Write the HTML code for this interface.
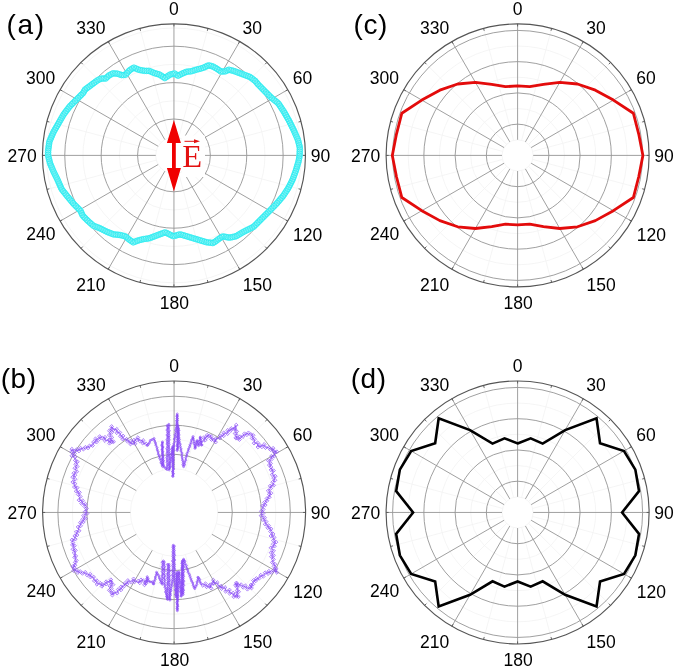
<!DOCTYPE html><html><head><meta charset="utf-8"><style>
*{margin:0;padding:0}
html,body{width:675px;height:668px;background:#fff;overflow:hidden}
svg{display:block;will-change:transform}
.mn{stroke:#f2f2f2;stroke-width:0.8;fill:none}
.mj{stroke:#959595;stroke-width:0.9;fill:none}
.sp{stroke:#959595;stroke-width:0.9}
.tk{stroke:#555;stroke-width:0.9}
.ou{stroke:#555;stroke-width:1.15;fill:none}
.lb{font-family:"Liberation Sans",sans-serif;font-size:17.5px;fill:#000;text-anchor:middle}
.cy circle{fill:none;stroke:#2aebf0;stroke-width:0.75}
.pu circle,.pu path{fill:none;stroke:#8a4cf6;stroke-width:0.7}
.pl{font-family:"Liberation Sans",sans-serif;font-size:28px;fill:#000;letter-spacing:0.5px}
</style></head><body>
<svg width="675" height="668" viewBox="0 0 675 668">
<line x1="178.66" y1="137.82" x2="207.98" y2="28.38" class="mn"/>
<line x1="186.82" y1="142.53" x2="266.93" y2="62.42" class="mn"/>
<line x1="191.53" y1="150.69" x2="300.97" y2="121.37" class="mn"/>
<line x1="191.53" y1="160.11" x2="300.97" y2="189.43" class="mn"/>
<line x1="186.82" y1="168.27" x2="266.93" y2="248.38" class="mn"/>
<line x1="178.66" y1="172.98" x2="207.98" y2="282.42" class="mn"/>
<line x1="169.24" y1="172.98" x2="139.92" y2="282.42" class="mn"/>
<line x1="161.08" y1="168.27" x2="80.97" y2="248.38" class="mn"/>
<line x1="156.37" y1="160.11" x2="46.93" y2="189.43" class="mn"/>
<line x1="156.37" y1="150.69" x2="46.93" y2="121.37" class="mn"/>
<line x1="161.08" y1="142.53" x2="80.97" y2="62.42" class="mn"/>
<line x1="169.24" y1="137.82" x2="139.92" y2="28.38" class="mn"/>
<circle cx="173.95" cy="155.4" r="18.2" class="mn"/>
<circle cx="173.95" cy="155.4" r="54.6" class="mn"/>
<circle cx="173.95" cy="155.4" r="91" class="mn"/>
<circle cx="173.95" cy="155.4" r="127.4" class="mn"/>
<circle cx="173.95" cy="155.4" r="36.4" class="mj"/>
<circle cx="173.95" cy="155.4" r="72.8" class="mj"/>
<circle cx="173.95" cy="155.4" r="109.2" class="mj"/>
<line x1="173.95" y1="137.2" x2="173.95" y2="23.9" class="sp"/>
<line x1="183.05" y1="139.64" x2="239.7" y2="41.52" class="sp"/>
<line x1="189.71" y1="146.3" x2="287.83" y2="89.65" class="sp"/>
<line x1="192.15" y1="155.4" x2="305.45" y2="155.4" class="sp"/>
<line x1="189.71" y1="164.5" x2="287.83" y2="221.15" class="sp"/>
<line x1="183.05" y1="171.16" x2="239.7" y2="269.28" class="sp"/>
<line x1="173.95" y1="173.6" x2="173.95" y2="286.9" class="sp"/>
<line x1="164.85" y1="171.16" x2="108.2" y2="269.28" class="sp"/>
<line x1="158.19" y1="164.5" x2="60.07" y2="221.15" class="sp"/>
<line x1="155.75" y1="155.4" x2="42.45" y2="155.4" class="sp"/>
<line x1="158.19" y1="146.3" x2="60.07" y2="89.65" class="sp"/>
<line x1="164.85" y1="139.64" x2="108.2" y2="41.52" class="sp"/>
<line x1="173.95" y1="26.4" x2="173.95" y2="23.9" class="tk"/>
<line x1="207.34" y1="30.8" x2="207.98" y2="28.38" class="tk"/>
<line x1="238.45" y1="43.68" x2="239.7" y2="41.52" class="tk"/>
<line x1="265.17" y1="64.18" x2="266.93" y2="62.42" class="tk"/>
<line x1="285.67" y1="90.9" x2="287.83" y2="89.65" class="tk"/>
<line x1="298.55" y1="122.01" x2="300.97" y2="121.37" class="tk"/>
<line x1="302.95" y1="155.4" x2="305.45" y2="155.4" class="tk"/>
<line x1="298.55" y1="188.79" x2="300.97" y2="189.43" class="tk"/>
<line x1="285.67" y1="219.9" x2="287.83" y2="221.15" class="tk"/>
<line x1="265.17" y1="246.62" x2="266.93" y2="248.38" class="tk"/>
<line x1="238.45" y1="267.12" x2="239.7" y2="269.28" class="tk"/>
<line x1="207.34" y1="280" x2="207.98" y2="282.42" class="tk"/>
<line x1="173.95" y1="284.4" x2="173.95" y2="286.9" class="tk"/>
<line x1="140.56" y1="280" x2="139.92" y2="282.42" class="tk"/>
<line x1="109.45" y1="267.12" x2="108.2" y2="269.28" class="tk"/>
<line x1="82.73" y1="246.62" x2="80.97" y2="248.38" class="tk"/>
<line x1="62.23" y1="219.9" x2="60.07" y2="221.15" class="tk"/>
<line x1="49.35" y1="188.79" x2="46.93" y2="189.43" class="tk"/>
<line x1="44.95" y1="155.4" x2="42.45" y2="155.4" class="tk"/>
<line x1="49.35" y1="122.01" x2="46.93" y2="121.37" class="tk"/>
<line x1="62.23" y1="90.9" x2="60.07" y2="89.65" class="tk"/>
<line x1="82.73" y1="64.18" x2="80.97" y2="62.42" class="tk"/>
<line x1="109.45" y1="43.68" x2="108.2" y2="41.52" class="tk"/>
<line x1="140.56" y1="30.8" x2="139.92" y2="28.38" class="tk"/>
<circle cx="173.95" cy="155.4" r="131.5" class="ou"/>
<line x1="185.41" y1="470.24" x2="208.13" y2="385.43" class="mn"/>
<line x1="205" y1="481.55" x2="267.08" y2="419.47" class="mn"/>
<line x1="216.31" y1="501.14" x2="301.12" y2="478.42" class="mn"/>
<line x1="216.31" y1="523.76" x2="301.12" y2="546.48" class="mn"/>
<line x1="205" y1="543.35" x2="267.08" y2="605.43" class="mn"/>
<line x1="185.41" y1="554.66" x2="208.13" y2="639.47" class="mn"/>
<line x1="162.79" y1="554.66" x2="140.07" y2="639.47" class="mn"/>
<line x1="143.2" y1="543.35" x2="81.12" y2="605.43" class="mn"/>
<line x1="131.89" y1="523.76" x2="47.08" y2="546.48" class="mn"/>
<line x1="131.89" y1="501.14" x2="47.08" y2="478.42" class="mn"/>
<line x1="143.2" y1="481.55" x2="81.12" y2="419.47" class="mn"/>
<line x1="162.79" y1="470.24" x2="140.07" y2="385.43" class="mn"/>
<circle cx="174.1" cy="512.45" r="43.7" class="mn"/>
<circle cx="174.1" cy="512.45" r="72.7" class="mn"/>
<circle cx="174.1" cy="512.45" r="101.7" class="mn"/>
<circle cx="174.1" cy="512.45" r="58.2" class="mj"/>
<circle cx="174.1" cy="512.45" r="87.2" class="mj"/>
<circle cx="174.1" cy="512.45" r="116.2" class="mj"/>
<line x1="174.1" y1="468.75" x2="174.1" y2="380.95" class="sp"/>
<line x1="195.95" y1="474.6" x2="239.85" y2="398.57" class="sp"/>
<line x1="211.95" y1="490.6" x2="287.98" y2="446.7" class="sp"/>
<line x1="217.8" y1="512.45" x2="305.6" y2="512.45" class="sp"/>
<line x1="211.95" y1="534.3" x2="287.98" y2="578.2" class="sp"/>
<line x1="195.95" y1="550.3" x2="239.85" y2="626.33" class="sp"/>
<line x1="174.1" y1="556.15" x2="174.1" y2="643.95" class="sp"/>
<line x1="152.25" y1="550.3" x2="108.35" y2="626.33" class="sp"/>
<line x1="136.25" y1="534.3" x2="60.22" y2="578.2" class="sp"/>
<line x1="130.4" y1="512.45" x2="42.6" y2="512.45" class="sp"/>
<line x1="136.25" y1="490.6" x2="60.22" y2="446.7" class="sp"/>
<line x1="152.25" y1="474.6" x2="108.35" y2="398.57" class="sp"/>
<line x1="174.1" y1="383.45" x2="174.1" y2="380.95" class="tk"/>
<line x1="207.49" y1="387.85" x2="208.13" y2="385.43" class="tk"/>
<line x1="238.6" y1="400.73" x2="239.85" y2="398.57" class="tk"/>
<line x1="265.32" y1="421.23" x2="267.08" y2="419.47" class="tk"/>
<line x1="285.82" y1="447.95" x2="287.98" y2="446.7" class="tk"/>
<line x1="298.7" y1="479.06" x2="301.12" y2="478.42" class="tk"/>
<line x1="303.1" y1="512.45" x2="305.6" y2="512.45" class="tk"/>
<line x1="298.7" y1="545.84" x2="301.12" y2="546.48" class="tk"/>
<line x1="285.82" y1="576.95" x2="287.98" y2="578.2" class="tk"/>
<line x1="265.32" y1="603.67" x2="267.08" y2="605.43" class="tk"/>
<line x1="238.6" y1="624.17" x2="239.85" y2="626.33" class="tk"/>
<line x1="207.49" y1="637.05" x2="208.13" y2="639.47" class="tk"/>
<line x1="174.1" y1="641.45" x2="174.1" y2="643.95" class="tk"/>
<line x1="140.71" y1="637.05" x2="140.07" y2="639.47" class="tk"/>
<line x1="109.6" y1="624.17" x2="108.35" y2="626.33" class="tk"/>
<line x1="82.88" y1="603.67" x2="81.12" y2="605.43" class="tk"/>
<line x1="62.38" y1="576.95" x2="60.22" y2="578.2" class="tk"/>
<line x1="49.5" y1="545.84" x2="47.08" y2="546.48" class="tk"/>
<line x1="45.1" y1="512.45" x2="42.6" y2="512.45" class="tk"/>
<line x1="49.5" y1="479.06" x2="47.08" y2="478.42" class="tk"/>
<line x1="62.38" y1="447.95" x2="60.22" y2="446.7" class="tk"/>
<line x1="82.88" y1="421.23" x2="81.12" y2="419.47" class="tk"/>
<line x1="109.6" y1="400.73" x2="108.35" y2="398.57" class="tk"/>
<line x1="140.71" y1="387.85" x2="140.07" y2="385.43" class="tk"/>
<circle cx="174.1" cy="512.45" r="131.5" class="ou"/>
<line x1="521.64" y1="140.31" x2="551.63" y2="28.38" class="mn"/>
<line x1="528.65" y1="144.35" x2="610.58" y2="62.42" class="mn"/>
<line x1="532.69" y1="151.36" x2="644.62" y2="121.37" class="mn"/>
<line x1="532.69" y1="159.44" x2="644.62" y2="189.43" class="mn"/>
<line x1="528.65" y1="166.45" x2="610.58" y2="248.38" class="mn"/>
<line x1="521.64" y1="170.49" x2="551.63" y2="282.42" class="mn"/>
<line x1="513.56" y1="170.49" x2="483.57" y2="282.42" class="mn"/>
<line x1="506.55" y1="166.45" x2="424.62" y2="248.38" class="mn"/>
<line x1="502.51" y1="159.44" x2="390.58" y2="189.43" class="mn"/>
<line x1="502.51" y1="151.36" x2="390.58" y2="121.37" class="mn"/>
<line x1="506.55" y1="144.35" x2="424.62" y2="62.42" class="mn"/>
<line x1="513.56" y1="140.31" x2="483.57" y2="28.38" class="mn"/>
<circle cx="517.6" cy="155.4" r="15.62" class="mn"/>
<circle cx="517.6" cy="155.4" r="46.88" class="mn"/>
<circle cx="517.6" cy="155.4" r="78.12" class="mn"/>
<circle cx="517.6" cy="155.4" r="109.38" class="mn"/>
<circle cx="517.6" cy="155.4" r="31.25" class="mj"/>
<circle cx="517.6" cy="155.4" r="62.5" class="mj"/>
<circle cx="517.6" cy="155.4" r="93.75" class="mj"/>
<circle cx="517.6" cy="155.4" r="125" class="mj"/>
<line x1="517.6" y1="139.78" x2="517.6" y2="23.9" class="sp"/>
<line x1="525.41" y1="141.87" x2="583.35" y2="41.52" class="sp"/>
<line x1="531.13" y1="147.59" x2="631.48" y2="89.65" class="sp"/>
<line x1="533.23" y1="155.4" x2="649.1" y2="155.4" class="sp"/>
<line x1="531.13" y1="163.21" x2="631.48" y2="221.15" class="sp"/>
<line x1="525.41" y1="168.93" x2="583.35" y2="269.28" class="sp"/>
<line x1="517.6" y1="171.03" x2="517.6" y2="286.9" class="sp"/>
<line x1="509.79" y1="168.93" x2="451.85" y2="269.28" class="sp"/>
<line x1="504.07" y1="163.21" x2="403.72" y2="221.15" class="sp"/>
<line x1="501.98" y1="155.4" x2="386.1" y2="155.4" class="sp"/>
<line x1="504.07" y1="147.59" x2="403.72" y2="89.65" class="sp"/>
<line x1="509.79" y1="141.87" x2="451.85" y2="41.52" class="sp"/>
<line x1="517.6" y1="26.4" x2="517.6" y2="23.9" class="tk"/>
<line x1="550.99" y1="30.8" x2="551.63" y2="28.38" class="tk"/>
<line x1="582.1" y1="43.68" x2="583.35" y2="41.52" class="tk"/>
<line x1="608.82" y1="64.18" x2="610.58" y2="62.42" class="tk"/>
<line x1="629.32" y1="90.9" x2="631.48" y2="89.65" class="tk"/>
<line x1="642.2" y1="122.01" x2="644.62" y2="121.37" class="tk"/>
<line x1="646.6" y1="155.4" x2="649.1" y2="155.4" class="tk"/>
<line x1="642.2" y1="188.79" x2="644.62" y2="189.43" class="tk"/>
<line x1="629.32" y1="219.9" x2="631.48" y2="221.15" class="tk"/>
<line x1="608.82" y1="246.62" x2="610.58" y2="248.38" class="tk"/>
<line x1="582.1" y1="267.12" x2="583.35" y2="269.28" class="tk"/>
<line x1="550.99" y1="280" x2="551.63" y2="282.42" class="tk"/>
<line x1="517.6" y1="284.4" x2="517.6" y2="286.9" class="tk"/>
<line x1="484.21" y1="280" x2="483.57" y2="282.42" class="tk"/>
<line x1="453.1" y1="267.12" x2="451.85" y2="269.28" class="tk"/>
<line x1="426.38" y1="246.62" x2="424.62" y2="248.38" class="tk"/>
<line x1="405.88" y1="219.9" x2="403.72" y2="221.15" class="tk"/>
<line x1="393" y1="188.79" x2="390.58" y2="189.43" class="tk"/>
<line x1="388.6" y1="155.4" x2="386.1" y2="155.4" class="tk"/>
<line x1="393" y1="122.01" x2="390.58" y2="121.37" class="tk"/>
<line x1="405.88" y1="90.9" x2="403.72" y2="89.65" class="tk"/>
<line x1="426.38" y1="64.18" x2="424.62" y2="62.42" class="tk"/>
<line x1="453.1" y1="43.68" x2="451.85" y2="41.52" class="tk"/>
<line x1="484.21" y1="30.8" x2="483.57" y2="28.38" class="tk"/>
<circle cx="517.6" cy="155.4" r="131.5" class="ou"/>
<line x1="521.64" y1="497.36" x2="551.63" y2="385.43" class="mn"/>
<line x1="528.65" y1="501.4" x2="610.58" y2="419.47" class="mn"/>
<line x1="532.69" y1="508.41" x2="644.62" y2="478.42" class="mn"/>
<line x1="532.69" y1="516.49" x2="644.62" y2="546.48" class="mn"/>
<line x1="528.65" y1="523.5" x2="610.58" y2="605.43" class="mn"/>
<line x1="521.64" y1="527.54" x2="551.63" y2="639.47" class="mn"/>
<line x1="513.56" y1="527.54" x2="483.57" y2="639.47" class="mn"/>
<line x1="506.55" y1="523.5" x2="424.62" y2="605.43" class="mn"/>
<line x1="502.51" y1="516.49" x2="390.58" y2="546.48" class="mn"/>
<line x1="502.51" y1="508.41" x2="390.58" y2="478.42" class="mn"/>
<line x1="506.55" y1="501.4" x2="424.62" y2="419.47" class="mn"/>
<line x1="513.56" y1="497.36" x2="483.57" y2="385.43" class="mn"/>
<circle cx="517.6" cy="512.45" r="15.62" class="mn"/>
<circle cx="517.6" cy="512.45" r="46.88" class="mn"/>
<circle cx="517.6" cy="512.45" r="78.12" class="mn"/>
<circle cx="517.6" cy="512.45" r="109.38" class="mn"/>
<circle cx="517.6" cy="512.45" r="31.25" class="mj"/>
<circle cx="517.6" cy="512.45" r="62.5" class="mj"/>
<circle cx="517.6" cy="512.45" r="93.75" class="mj"/>
<circle cx="517.6" cy="512.45" r="125" class="mj"/>
<line x1="517.6" y1="496.83" x2="517.6" y2="380.95" class="sp"/>
<line x1="525.41" y1="498.92" x2="583.35" y2="398.57" class="sp"/>
<line x1="531.13" y1="504.64" x2="631.48" y2="446.7" class="sp"/>
<line x1="533.23" y1="512.45" x2="649.1" y2="512.45" class="sp"/>
<line x1="531.13" y1="520.26" x2="631.48" y2="578.2" class="sp"/>
<line x1="525.41" y1="525.98" x2="583.35" y2="626.33" class="sp"/>
<line x1="517.6" y1="528.08" x2="517.6" y2="643.95" class="sp"/>
<line x1="509.79" y1="525.98" x2="451.85" y2="626.33" class="sp"/>
<line x1="504.07" y1="520.26" x2="403.72" y2="578.2" class="sp"/>
<line x1="501.98" y1="512.45" x2="386.1" y2="512.45" class="sp"/>
<line x1="504.07" y1="504.64" x2="403.72" y2="446.7" class="sp"/>
<line x1="509.79" y1="498.92" x2="451.85" y2="398.57" class="sp"/>
<line x1="517.6" y1="383.45" x2="517.6" y2="380.95" class="tk"/>
<line x1="550.99" y1="387.85" x2="551.63" y2="385.43" class="tk"/>
<line x1="582.1" y1="400.73" x2="583.35" y2="398.57" class="tk"/>
<line x1="608.82" y1="421.23" x2="610.58" y2="419.47" class="tk"/>
<line x1="629.32" y1="447.95" x2="631.48" y2="446.7" class="tk"/>
<line x1="642.2" y1="479.06" x2="644.62" y2="478.42" class="tk"/>
<line x1="646.6" y1="512.45" x2="649.1" y2="512.45" class="tk"/>
<line x1="642.2" y1="545.84" x2="644.62" y2="546.48" class="tk"/>
<line x1="629.32" y1="576.95" x2="631.48" y2="578.2" class="tk"/>
<line x1="608.82" y1="603.67" x2="610.58" y2="605.43" class="tk"/>
<line x1="582.1" y1="624.17" x2="583.35" y2="626.33" class="tk"/>
<line x1="550.99" y1="637.05" x2="551.63" y2="639.47" class="tk"/>
<line x1="517.6" y1="641.45" x2="517.6" y2="643.95" class="tk"/>
<line x1="484.21" y1="637.05" x2="483.57" y2="639.47" class="tk"/>
<line x1="453.1" y1="624.17" x2="451.85" y2="626.33" class="tk"/>
<line x1="426.38" y1="603.67" x2="424.62" y2="605.43" class="tk"/>
<line x1="405.88" y1="576.95" x2="403.72" y2="578.2" class="tk"/>
<line x1="393" y1="545.84" x2="390.58" y2="546.48" class="tk"/>
<line x1="388.6" y1="512.45" x2="386.1" y2="512.45" class="tk"/>
<line x1="393" y1="479.06" x2="390.58" y2="478.42" class="tk"/>
<line x1="405.88" y1="447.95" x2="403.72" y2="446.7" class="tk"/>
<line x1="426.38" y1="421.23" x2="424.62" y2="419.47" class="tk"/>
<line x1="453.1" y1="400.73" x2="451.85" y2="398.57" class="tk"/>
<line x1="484.21" y1="387.85" x2="483.57" y2="385.43" class="tk"/>
<circle cx="517.6" cy="512.45" r="131.5" class="ou"/>
<polygon points="174.4,73.5 178,75.7 182.4,73.5 186.9,71.6 191.3,71.3 195.8,69.8 200.2,68.7 203.9,67.6 208.4,65.3 212.8,66.4 217.3,69 221,71.6 225.4,71.3 228.7,69.7 234,71 239.3,73 244.7,75 250,77 255.3,81 258.1,84.4 264.8,91.2 271.6,97.9 278.3,103.3 283.7,111.4 289.1,120.8 293.8,130.3 297.9,139.7 299.9,147.8 299.6,155.5 298.7,160.8 296,170.2 292.6,179.7 288.5,187.8 283.2,195.9 276.4,203.9 269.7,210.7 261.6,218.8 253.5,226.9 245.4,230.9 242.7,232.3 236,236.3 229.3,237.7 222.7,236.3 218.7,239 213.3,243 206.7,242.3 200,240.3 193.3,238.3 186.7,236.3 180,234.3 173.3,236.3 165.3,232.3 156,235.7 149.3,238.3 144,239 138.7,240.3 133.3,242.3 129.3,239.7 125.3,236.3 120,235 113.3,234.3 106.7,231.7 100,228.3 93.3,225.7 88,221 82.7,215.7 80.5,210.7 73.7,203.9 67,195.9 61.6,189.1 57.5,179.7 53.5,171.6 50.1,163.5 48.1,155.4 48.1,150.9 49.4,141.5 53.5,132 58.2,123.9 63.6,114.5 69.7,106.4 76.4,99.7 83.2,92.9 85,89.6 90.9,85.2 96.9,80.7 100,79 102,78.5 105.7,78.5 108.7,75.6 113.1,73.3 117.6,73.7 122,75.2 125.4,74.8 129.4,70.4 133.7,67.6 138.9,69.8 144.8,70.9 149.3,70.9 154.4,73.1 159.6,74.6 164.8,78 170,74.6" fill="none" stroke="#a2f7f8" stroke-width="6.3" stroke-linejoin="round"/>
<g class="cy"><circle cx="174.4" cy="73.5" r="2.8"/><circle cx="176.28" cy="74.65" r="2.8"/><circle cx="178.16" cy="75.62" r="2.8"/><circle cx="180.13" cy="74.64" r="2.8"/><circle cx="182.1" cy="73.65" r="2.8"/><circle cx="184.12" cy="72.78" r="2.8"/><circle cx="186.14" cy="71.92" r="2.8"/><circle cx="188.27" cy="71.51" r="2.8"/><circle cx="190.47" cy="71.36" r="2.8"/><circle cx="192.6" cy="70.87" r="2.8"/><circle cx="194.68" cy="70.17" r="2.8"/><circle cx="196.79" cy="69.55" r="2.8"/><circle cx="198.93" cy="69.02" r="2.8"/><circle cx="201.05" cy="68.45" r="2.8"/><circle cx="203.16" cy="67.82" r="2.8"/><circle cx="205.17" cy="66.95" r="2.8"/><circle cx="207.13" cy="65.95" r="2.8"/><circle cx="209.15" cy="65.49" r="2.8"/><circle cx="211.29" cy="66.02" r="2.8"/><circle cx="213.35" cy="66.72" r="2.8"/><circle cx="215.26" cy="67.82" r="2.8"/><circle cx="217.16" cy="68.92" r="2.8"/><circle cx="218.97" cy="70.17" r="2.8"/><circle cx="220.77" cy="71.44" r="2.8"/><circle cx="222.92" cy="71.47" r="2.8"/><circle cx="225.11" cy="71.32" r="2.8"/><circle cx="227.12" cy="70.47" r="2.8"/><circle cx="229.13" cy="69.81" r="2.8"/><circle cx="231.27" cy="70.33" r="2.8"/><circle cx="233.4" cy="70.85" r="2.8"/><circle cx="235.48" cy="71.56" r="2.8"/><circle cx="237.54" cy="72.34" r="2.8"/><circle cx="239.6" cy="73.11" r="2.8"/><circle cx="241.66" cy="73.88" r="2.8"/><circle cx="243.73" cy="74.64" r="2.8"/><circle cx="245.79" cy="75.41" r="2.8"/><circle cx="247.84" cy="76.19" r="2.8"/><circle cx="249.9" cy="76.96" r="2.8"/><circle cx="251.67" cy="78.26" r="2.8"/><circle cx="253.43" cy="79.59" r="2.8"/><circle cx="255.19" cy="80.91" r="2.8"/><circle cx="256.61" cy="82.59" r="2.8"/><circle cx="258.01" cy="84.29" r="2.8"/><circle cx="259.54" cy="85.86" r="2.8"/><circle cx="261.08" cy="87.43" r="2.8"/><circle cx="262.63" cy="89" r="2.8"/><circle cx="264.17" cy="90.56" r="2.8"/><circle cx="265.73" cy="92.12" r="2.8"/><circle cx="267.3" cy="93.66" r="2.8"/><circle cx="268.86" cy="95.2" r="2.8"/><circle cx="270.43" cy="96.75" r="2.8"/><circle cx="272.04" cy="98.25" r="2.8"/><circle cx="273.75" cy="99.63" r="2.8"/><circle cx="275.46" cy="101.01" r="2.8"/><circle cx="277.17" cy="102.39" r="2.8"/><circle cx="278.72" cy="103.93" r="2.8"/><circle cx="279.94" cy="105.76" r="2.8"/><circle cx="281.16" cy="107.59" r="2.8"/><circle cx="282.38" cy="109.42" r="2.8"/><circle cx="283.6" cy="111.25" r="2.8"/><circle cx="284.71" cy="113.15" r="2.8"/><circle cx="285.8" cy="115.06" r="2.8"/><circle cx="286.9" cy="116.97" r="2.8"/><circle cx="287.99" cy="118.87" r="2.8"/><circle cx="289.09" cy="120.78" r="2.8"/><circle cx="290.07" cy="122.75" r="2.8"/><circle cx="291.04" cy="124.72" r="2.8"/><circle cx="292.02" cy="126.7" r="2.8"/><circle cx="292.99" cy="128.67" r="2.8"/><circle cx="293.95" cy="130.65" r="2.8"/><circle cx="294.83" cy="132.66" r="2.8"/><circle cx="295.71" cy="134.68" r="2.8"/><circle cx="296.59" cy="136.7" r="2.8"/><circle cx="297.47" cy="138.71" r="2.8"/><circle cx="298.17" cy="140.79" r="2.8"/><circle cx="298.7" cy="142.93" r="2.8"/><circle cx="299.22" cy="145.06" r="2.8"/><circle cx="299.75" cy="147.2" r="2.8"/><circle cx="299.84" cy="149.38" r="2.8"/><circle cx="299.75" cy="151.58" r="2.8"/><circle cx="299.67" cy="153.78" r="2.8"/><circle cx="299.52" cy="155.97" r="2.8"/><circle cx="299.15" cy="158.14" r="2.8"/><circle cx="298.78" cy="160.31" r="2.8"/><circle cx="298.23" cy="162.43" r="2.8"/><circle cx="297.62" cy="164.55" r="2.8"/><circle cx="297.02" cy="166.66" r="2.8"/><circle cx="296.41" cy="168.78" r="2.8"/><circle cx="295.76" cy="170.88" r="2.8"/><circle cx="295.02" cy="172.95" r="2.8"/><circle cx="294.27" cy="175.02" r="2.8"/><circle cx="293.53" cy="177.09" r="2.8"/><circle cx="292.79" cy="179.16" r="2.8"/><circle cx="291.86" cy="181.15" r="2.8"/><circle cx="290.87" cy="183.12" r="2.8"/><circle cx="289.88" cy="185.08" r="2.8"/><circle cx="288.88" cy="187.04" r="2.8"/><circle cx="287.76" cy="188.93" r="2.8"/><circle cx="286.56" cy="190.77" r="2.8"/><circle cx="285.35" cy="192.61" r="2.8"/><circle cx="284.15" cy="194.45" r="2.8"/><circle cx="282.9" cy="196.26" r="2.8"/><circle cx="281.47" cy="197.94" r="2.8"/><circle cx="280.05" cy="199.61" r="2.8"/><circle cx="278.62" cy="201.29" r="2.8"/><circle cx="277.2" cy="202.96" r="2.8"/><circle cx="275.72" cy="204.59" r="2.8"/><circle cx="274.17" cy="206.16" r="2.8"/><circle cx="272.63" cy="207.73" r="2.8"/><circle cx="271.09" cy="209.29" r="2.8"/><circle cx="269.54" cy="210.86" r="2.8"/><circle cx="267.99" cy="212.41" r="2.8"/><circle cx="266.43" cy="213.97" r="2.8"/><circle cx="264.87" cy="215.53" r="2.8"/><circle cx="263.32" cy="217.08" r="2.8"/><circle cx="261.76" cy="218.64" r="2.8"/><circle cx="260.21" cy="220.19" r="2.8"/><circle cx="258.65" cy="221.75" r="2.8"/><circle cx="257.1" cy="223.3" r="2.8"/><circle cx="255.54" cy="224.86" r="2.8"/><circle cx="253.98" cy="226.42" r="2.8"/><circle cx="252.14" cy="227.57" r="2.8"/><circle cx="250.17" cy="228.54" r="2.8"/><circle cx="248.2" cy="229.52" r="2.8"/><circle cx="246.22" cy="230.49" r="2.8"/><circle cx="244.26" cy="231.49" r="2.8"/><circle cx="242.32" cy="232.53" r="2.8"/><circle cx="240.43" cy="233.65" r="2.8"/><circle cx="238.54" cy="234.78" r="2.8"/><circle cx="236.66" cy="235.91" r="2.8"/><circle cx="234.59" cy="236.59" r="2.8"/><circle cx="232.44" cy="237.04" r="2.8"/><circle cx="230.29" cy="237.49" r="2.8"/><circle cx="228.13" cy="237.45" r="2.8"/><circle cx="225.98" cy="237" r="2.8"/><circle cx="223.83" cy="236.54" r="2.8"/><circle cx="221.83" cy="236.88" r="2.8"/><circle cx="220.01" cy="238.12" r="2.8"/><circle cx="218.2" cy="239.37" r="2.8"/><circle cx="216.43" cy="240.68" r="2.8"/><circle cx="214.67" cy="241.99" r="2.8"/><circle cx="212.8" cy="242.95" r="2.8"/><circle cx="210.62" cy="242.72" r="2.8"/><circle cx="208.43" cy="242.48" r="2.8"/><circle cx="206.26" cy="242.17" r="2.8"/><circle cx="204.15" cy="241.54" r="2.8"/><circle cx="202.04" cy="240.91" r="2.8"/><circle cx="199.93" cy="240.28" r="2.8"/><circle cx="197.83" cy="239.65" r="2.8"/><circle cx="195.72" cy="239.02" r="2.8"/><circle cx="193.61" cy="238.39" r="2.8"/><circle cx="191.5" cy="237.76" r="2.8"/><circle cx="189.4" cy="237.12" r="2.8"/><circle cx="187.29" cy="236.48" r="2.8"/><circle cx="185.18" cy="235.85" r="2.8"/><circle cx="183.08" cy="235.22" r="2.8"/><circle cx="180.97" cy="234.59" r="2.8"/><circle cx="178.86" cy="234.64" r="2.8"/><circle cx="176.75" cy="235.27" r="2.8"/><circle cx="174.64" cy="235.9" r="2.8"/><circle cx="172.59" cy="235.94" r="2.8"/><circle cx="170.62" cy="234.96" r="2.8"/><circle cx="168.65" cy="233.98" r="2.8"/><circle cx="166.68" cy="232.99" r="2.8"/><circle cx="164.69" cy="232.52" r="2.8"/><circle cx="162.62" cy="233.28" r="2.8"/><circle cx="160.55" cy="234.03" r="2.8"/><circle cx="158.49" cy="234.79" r="2.8"/><circle cx="156.42" cy="235.55" r="2.8"/><circle cx="154.37" cy="236.33" r="2.8"/><circle cx="152.32" cy="237.13" r="2.8"/><circle cx="150.27" cy="237.93" r="2.8"/><circle cx="148.15" cy="238.45" r="2.8"/><circle cx="145.97" cy="238.74" r="2.8"/><circle cx="143.79" cy="239.05" r="2.8"/><circle cx="141.65" cy="239.58" r="2.8"/><circle cx="139.52" cy="240.1" r="2.8"/><circle cx="137.42" cy="240.77" r="2.8"/><circle cx="135.36" cy="241.54" r="2.8"/><circle cx="133.3" cy="242.3" r="2.8"/><circle cx="131.45" cy="241.1" r="2.8"/><circle cx="129.61" cy="239.9" r="2.8"/><circle cx="127.9" cy="238.51" r="2.8"/><circle cx="126.23" cy="237.09" r="2.8"/><circle cx="124.35" cy="236.07" r="2.8"/><circle cx="122.21" cy="235.54" r="2.8"/><circle cx="120.07" cy="235.02" r="2.8"/><circle cx="117.89" cy="234.78" r="2.8"/><circle cx="115.7" cy="234.55" r="2.8"/><circle cx="113.51" cy="234.32" r="2.8"/><circle cx="111.45" cy="233.57" r="2.8"/><circle cx="109.4" cy="232.76" r="2.8"/><circle cx="107.36" cy="231.96" r="2.8"/><circle cx="105.37" cy="231.02" r="2.8"/><circle cx="103.41" cy="230.03" r="2.8"/><circle cx="101.44" cy="229.03" r="2.8"/><circle cx="99.46" cy="228.09" r="2.8"/><circle cx="97.41" cy="227.29" r="2.8"/><circle cx="95.36" cy="226.5" r="2.8"/><circle cx="93.31" cy="225.7" r="2.8"/><circle cx="91.66" cy="224.24" r="2.8"/><circle cx="90.01" cy="222.78" r="2.8"/><circle cx="88.37" cy="221.32" r="2.8"/><circle cx="86.79" cy="219.79" r="2.8"/><circle cx="85.23" cy="218.23" r="2.8"/><circle cx="83.68" cy="216.68" r="2.8"/><circle cx="82.37" cy="214.95" r="2.8"/><circle cx="81.49" cy="212.94" r="2.8"/><circle cx="80.6" cy="210.93" r="2.8"/><circle cx="79.12" cy="209.32" r="2.8"/><circle cx="77.56" cy="207.76" r="2.8"/><circle cx="76.01" cy="206.21" r="2.8"/><circle cx="74.45" cy="204.65" r="2.8"/><circle cx="72.97" cy="203.03" r="2.8"/><circle cx="71.56" cy="201.34" r="2.8"/><circle cx="70.15" cy="199.66" r="2.8"/><circle cx="68.73" cy="197.97" r="2.8"/><circle cx="67.32" cy="196.28" r="2.8"/><circle cx="65.94" cy="194.57" r="2.8"/><circle cx="64.57" cy="192.85" r="2.8"/><circle cx="63.21" cy="191.12" r="2.8"/><circle cx="61.84" cy="189.4" r="2.8"/><circle cx="60.87" cy="187.43" r="2.8"/><circle cx="59.99" cy="185.42" r="2.8"/><circle cx="59.11" cy="183.4" r="2.8"/><circle cx="58.23" cy="181.38" r="2.8"/><circle cx="57.34" cy="179.38" r="2.8"/><circle cx="56.37" cy="177.4" r="2.8"/><circle cx="55.39" cy="175.43" r="2.8"/><circle cx="54.42" cy="173.46" r="2.8"/><circle cx="53.45" cy="171.48" r="2.8"/><circle cx="52.6" cy="169.45" r="2.8"/><circle cx="51.75" cy="167.42" r="2.8"/><circle cx="50.9" cy="165.4" r="2.8"/><circle cx="50.07" cy="163.36" r="2.8"/><circle cx="49.54" cy="161.22" r="2.8"/><circle cx="49.01" cy="159.09" r="2.8"/><circle cx="48.48" cy="156.95" r="2.8"/><circle cx="48.1" cy="154.8" r="2.8"/><circle cx="48.1" cy="152.6" r="2.8"/><circle cx="48.17" cy="150.4" r="2.8"/><circle cx="48.47" cy="148.22" r="2.8"/><circle cx="48.77" cy="146.05" r="2.8"/><circle cx="49.07" cy="143.87" r="2.8"/><circle cx="49.37" cy="141.69" r="2.8"/><circle cx="50.2" cy="139.65" r="2.8"/><circle cx="51.07" cy="137.63" r="2.8"/><circle cx="51.94" cy="135.61" r="2.8"/><circle cx="52.81" cy="133.59" r="2.8"/><circle cx="53.73" cy="131.6" r="2.8"/><circle cx="54.84" cy="129.7" r="2.8"/><circle cx="55.94" cy="127.79" r="2.8"/><circle cx="57.05" cy="125.89" r="2.8"/><circle cx="58.15" cy="123.99" r="2.8"/><circle cx="59.25" cy="122.08" r="2.8"/><circle cx="60.34" cy="120.17" r="2.8"/><circle cx="61.44" cy="118.26" r="2.8"/><circle cx="62.53" cy="116.36" r="2.8"/><circle cx="63.64" cy="114.45" r="2.8"/><circle cx="64.96" cy="112.7" r="2.8"/><circle cx="66.28" cy="110.94" r="2.8"/><circle cx="67.61" cy="109.18" r="2.8"/><circle cx="68.93" cy="107.42" r="2.8"/><circle cx="70.35" cy="105.75" r="2.8"/><circle cx="71.91" cy="104.19" r="2.8"/><circle cx="73.46" cy="102.64" r="2.8"/><circle cx="75.02" cy="101.08" r="2.8"/><circle cx="76.57" cy="99.53" r="2.8"/><circle cx="78.13" cy="97.97" r="2.8"/><circle cx="79.68" cy="96.42" r="2.8"/><circle cx="81.24" cy="94.86" r="2.8"/><circle cx="82.79" cy="93.31" r="2.8"/><circle cx="83.98" cy="91.47" r="2.8"/><circle cx="85.05" cy="89.56" r="2.8"/><circle cx="86.82" cy="88.24" r="2.8"/><circle cx="88.58" cy="86.93" r="2.8"/><circle cx="90.35" cy="85.61" r="2.8"/><circle cx="92.11" cy="84.3" r="2.8"/><circle cx="93.87" cy="82.98" r="2.8"/><circle cx="95.63" cy="81.66" r="2.8"/><circle cx="97.43" cy="80.41" r="2.8"/><circle cx="99.36" cy="79.35" r="2.8"/><circle cx="101.43" cy="78.64" r="2.8"/><circle cx="103.61" cy="78.5" r="2.8"/><circle cx="105.78" cy="78.42" r="2.8"/><circle cx="107.36" cy="76.89" r="2.8"/><circle cx="109" cy="75.44" r="2.8"/><circle cx="110.95" cy="74.42" r="2.8"/><circle cx="112.9" cy="73.41" r="2.8"/><circle cx="115.07" cy="73.47" r="2.8"/><circle cx="117.26" cy="73.67" r="2.8"/><circle cx="119.36" cy="74.3" r="2.8"/><circle cx="121.44" cy="75.01" r="2.8"/><circle cx="123.6" cy="75.01" r="2.8"/><circle cx="125.66" cy="74.52" r="2.8"/><circle cx="127.14" cy="72.89" r="2.8"/><circle cx="128.62" cy="71.26" r="2.8"/><circle cx="130.27" cy="69.83" r="2.8"/><circle cx="132.11" cy="68.63" r="2.8"/><circle cx="133.98" cy="67.72" r="2.8"/><circle cx="136.01" cy="68.58" r="2.8"/><circle cx="138.03" cy="69.43" r="2.8"/><circle cx="140.14" cy="70.03" r="2.8"/><circle cx="142.3" cy="70.43" r="2.8"/><circle cx="144.46" cy="70.84" r="2.8"/><circle cx="146.66" cy="70.9" r="2.8"/><circle cx="148.86" cy="70.9" r="2.8"/><circle cx="150.91" cy="71.6" r="2.8"/><circle cx="152.93" cy="72.47" r="2.8"/><circle cx="154.98" cy="73.27" r="2.8"/><circle cx="157.09" cy="73.88" r="2.8"/><circle cx="159.21" cy="74.49" r="2.8"/><circle cx="161.1" cy="75.58" r="2.8"/><circle cx="162.94" cy="76.78" r="2.8"/><circle cx="164.78" cy="77.99" r="2.8"/><circle cx="166.62" cy="76.81" r="2.8"/><circle cx="168.46" cy="75.6" r="2.8"/><circle cx="170.35" cy="74.51" r="2.8"/><circle cx="172.49" cy="73.98" r="2.8"/></g>
<polygon points="71.84,449.14 74.88,451.19 76.89,449.35 78.99,451.02 80.53,448.15 83.41,449.18 85.4,447.3 87.98,447.98 89.56,445.84 92.59,445.58 93.48,442.08 96.44,442.2 95.47,438.81 98.64,439.56 99.71,436.48 102.3,438.14 105,437.25 104.97,440.61 108.82,440.11 109.46,443.27 111.92,441.87 113.59,441.71 110.1,439.93 111.84,437.43 109.25,435.07 111.64,432.58 109.38,430.73 111.69,428.89 111.62,426.45 113.42,429.74 116.73,429.23 116.8,432.75 119.86,432.45 120.34,436.22 123.07,435.94 122.71,439.23 126.59,439.19 127.55,441.4 130.14,441.21 130.5,444.04 133.11,442.8 135.09,443.69 133.96,440.03 136.75,439.89 137.86,437.62 139.78,441 143.17,440.45 142.69,443.16 145.92,443.71 147.34,445.52 148.21,444.53 149.42,442.71 150.34,440.46 152.24,439.52 154.07,438.55 154.67,441.03 155.53,443.09 155.87,445.18 157.01,447.56 157.27,449.88 158.12,451.81 158.31,454.22 159.36,456.07 159.73,458.42 160.85,460.45 161.02,462.81 162.12,464.96 162.59,466.31 162.4,463.66 162.62,461.43 162.23,459.05 162.78,457.09 162.19,454.59 162.41,452.14 162.07,449.91 162.63,447.56 161.87,445.58 162.44,442.96 162.45,441.99 162.16,444.7 162.8,446.86 162.28,449.05 162.75,451.49 162.61,453.81 163.04,455.86 162.95,458.48 163.48,460.69 163.17,462.98 163.44,465.13 164.16,467.02 165.86,468.56 167.08,469.49 167.01,466.99 167.42,464.91 167.05,462.35 167.18,460 166.79,457.69 167.38,455.67 167.08,453.2 167.43,451.03 166.82,448.67 167.57,446.43 167.13,444 167.32,441.83 167,439.53 167.68,437.07 167.07,434.99 167.62,432.38 167,430.07 167.73,428.04 167.06,425.68 168.77,424.33 168.97,426.13 168.51,428.23 169.28,430.78 168.73,433.2 169.12,435.47 168.91,437.51 169.11,439.84 168.73,442.26 169.17,444.49 168.75,446.99 169.27,449.1 168.99,451.58 169.36,453.88 169.02,456.04 169.46,458.12 169.05,460.5 169.31,463.04 169.01,465.21 169.66,467.54 169.17,469.95 169.5,467.99 170.02,465.67 169.98,463.22 170.88,461.09 170.7,458.86 171.54,456.5 171.33,454.19 171.98,452.04 171.86,449.64 172.57,447.58 172.88,446.42 172.61,448.52 172.89,451.08 172.63,453.07 172.77,455.48 172.38,457.71 172.81,460.17 172.73,462.57 172.9,464.79 172.73,466.87 173.25,469.49 172.62,471.79 173.12,473.9 172.98,476.35 172.7,475.86 173.3,473.54 172.83,471.22 173.5,468.81 173.09,466.67 173.34,464.34 173.24,462.1 173.47,460 173.42,457.68 173.61,455.11 173.24,453.01 173.79,450.46 173.51,448.46 174.13,445.92 173.78,443.87 174.66,441.56 174.39,438.97 175.35,436.89 175.02,434.76 175.96,432.49 175.67,430.17 176.38,427.95 176.41,425.42 176.98,423.39 176.6,420.75 177.24,418.52 176.8,416.17 177.28,414.01 177.44,416 177.24,418.3 177.55,420.55 177.11,422.79 177.49,425.09 177.3,427.6 177.5,429.87 177.42,432.02 177.79,434.45 177.28,436.92 177.66,439.08 177.4,441.57 177.68,443.81 177.44,446.04 177.74,448.22 177.22,450.45 177.29,449.21 177.84,446.69 177.44,444.65 178.23,442.3 177.67,439.82 178.15,437.62 177.76,435.3 178.28,433.22 178.24,430.74 178.42,428.62 178.17,425.95 178.15,428.13 178.89,430.44 178.54,432.77 179.02,434.94 178.81,437.31 179.35,439.42 179.35,441.84 180.24,444.16 180.29,446.55 181.06,448.84 180.92,450.95 181.93,453.08 181.78,455.61 182.25,457.9 182.54,460.16 183.21,462.44 182.93,464.66 183.6,466.64 184.56,464.67 184.7,462.38 185.74,460.19 185.79,457.6 186.76,455.63 186.98,453.49 188.16,451.31 188.54,449.02 189.61,446.71 190.1,444.7 191.11,442.57 191.53,440.07 192.68,438.11 193.04,436.62 193.37,439.04 194.16,441.54 194.07,443.64 194.85,445.96 194.99,448.32 195.35,447.33 196,445.24 196.29,442.93 197.04,440.7 197.37,441.29 197.8,443.81 198.58,445.63 199.13,443.86 199.17,441.38 200.18,439.24 200.29,437.14 200.18,438.03 201.14,440.47 200.83,442.52 201.36,444.99 201.9,444.84 201.17,442.2 205,440.33 203.64,437.7 206.63,437.73 207.06,435.2 209.25,435.83 211.34,436.62 211.42,439.54 213.81,439.86 215.6,442.12 215.7,438.7 219.84,438.12 220.55,435.75 223.66,435.8 223.73,432.82 227.6,433.65 227.63,430.39 230.65,430.61 231.2,428.48 234.54,429.09 236.22,425.07 234.87,428.1 236.75,431.44 235.02,433.5 237.11,435.74 235.73,437.91 237.41,438.34 239.52,439.55 240.34,436.69 242.89,436.66 244.51,433.69 246.87,434.76 248.45,432.8 250.87,434.59 253.16,435.28 252.09,438.43 254.58,439.19 254.04,443.19 257.58,442.81 257.89,447 259.94,445.36 261.89,446.89 264.22,444.35 265.48,447.66 268.83,447.46 270.55,449.62 273.12,448.24 273.74,451.14 276.79,451.72 274.7,452.59 274.19,456.3 271.44,456.18 271.36,459.4 268.37,460.59 270.63,463.43 269.28,465.08 271.17,467.21 271.02,469.88 273.55,470.63 272.11,474.63 275.32,476.21 273.59,478.1 275.02,480.26 272.7,482.25 273.68,485.33 270.18,485.93 270.63,488.44 268.25,490.88 270.95,493.13 269.27,494.35 269.42,497.14 266.95,498.47 267,500.79 264.5,502.4 265.27,505.02 262.51,505.88 263.35,509.38 261.32,511.2 263.22,513.27 261,515.66 264.67,517.62 262.93,519.77 266.16,521.61 265.19,524.23 268.66,525.67 267.73,527.76 271.06,528.83 270.48,531.46 273.07,533.92 270.87,535.97 274.23,537.45 273.44,540.37 276.01,542.16 273.23,544.13 274.44,546.2 271.04,547.75 273.59,550.86 271.05,552.64 273.59,555.41 271.37,556.69 273.47,559.39 272.29,562.45 274.95,564.22 273.92,566.35 275.98,568.3 275.59,570 276.83,572.43 273.59,570.3 271.38,572.48 268.81,571.2 268.04,573.62 265.12,572.7 263.3,576.4 260.77,575.14 259.19,578.35 256.41,578.44 255.74,580.88 253.45,580.46 252.96,584.31 250.88,584.9 251.51,588.04 250.21,587.01 247.43,589.27 245.42,585.76 243.25,587.39 241.11,584.61 238.21,585.24 236.47,582.88 236.67,583.89 235.47,585.27 237.48,587.19 237.05,590.53 238.63,591.76 236.11,594.06 238.39,596.65 236.56,596.25 233.75,596.73 233.09,593.03 229.61,593.41 229.5,589.99 225.66,591.36 225.01,587.43 221.63,588.63 221.18,586.08 218.72,586.75 217.28,582.57 213.94,583.5 213.36,580.1 212.74,583.37 210.24,584.71 211.18,588.21 209.16,586.07 206.6,586.84 205.47,583.65 202.83,585.43 201.14,583.72 199.96,582.01 199.71,579.49 198.49,577.78 197.89,577.34 197.91,579.88 197.12,581.83 196.83,584.47 195.78,586.5 194.75,588.59 194.02,587.16 193.19,585.32 192.74,582.94 191.54,580.95 190.86,578.79 189.96,576.51 189.39,574.42 188.09,572.29 187.68,569.92 186.59,568.04 186.36,565.58 184.97,563.59 184.85,561.23 183.6,559.26 183.51,560.21 183.6,562.35 183.32,564.83 183.81,566.95 183.2,569.49 183.69,571.62 183.24,574.19 183.62,576.34 183.23,578.57 183.82,581.11 183.21,583.09 183.74,585.39 183.04,587.97 183.59,590.24 183.17,592.54 183.09,594.56 182.58,593.27 182.41,591.14 182.56,588.72 182.25,586.38 182.53,583.98 182.26,581.94 182.47,579.47 182.32,577.36 182.45,574.72 182.32,572.77 182.51,570.09 182.26,567.93 182.63,565.72 182.17,563.24 182.53,560.96 182.34,561.37 182.06,563.39 182.16,565.79 181.83,568.07 182.02,570.33 181.81,572.88 181.89,575.05 181.73,577.13 182.11,579.47 181.57,581.94 181.93,584.15 181.39,586.55 181.75,588.89 181.31,591.09 181.49,593.47 181.22,595.6 181.21,596.13 181.25,593.55 180.63,591.27 180.66,589.07 180.01,586.83 180.35,584.34 179.77,582.11 179.98,580.06 179.26,577.52 179.42,575.32 178.97,572.98 178.74,571.71 178.99,574.02 178.29,576.37 178.72,578.67 178.41,580.64 178.67,583.26 177.89,585.31 178.48,587.55 178.05,589.88 178.33,592.14 177.72,594.73 177.92,596.78 177.55,599.09 177.67,601.35 177.24,603.93 177.76,606.23 177.07,608.47 177.36,610.71 177.53,608.98 177.21,606.77 177.46,604.59 176.85,602.34 177.44,599.8 177.08,597.45 177.53,595.27 176.86,593.05 177.27,590.51 176.97,588.16 177.37,585.94 176.88,583.94 177.23,581.51 176.7,578.95 176.96,576.7 176.77,574.52 177.11,572.37 176.91,573.95 176.66,576.16 176.75,578.6 176.34,580.89 176.73,583.29 176.42,585.43 176.78,587.85 176.14,590.32 176.53,592.32 176.01,594.8 176.67,597.18 176.33,596.54 175.57,594.44 175.98,592 175.4,589.78 175.7,587.57 174.82,585.38 174.92,582.91 174.46,580.53 174.61,578.43 174.16,576.05 174.91,573.58 174.19,571.47 174.68,569.18 174.38,566.7 174.55,564.45 174.02,562.39 174.69,560.01 173.95,557.77 174.62,555.31 174.19,553.01 174.36,550.57 173.93,548.25 174.34,546.16 173.24,545.29 172.86,547.17 173.17,549.55 172.83,551.88 173,554.23 172.85,556.35 173.19,558.58 172.52,560.96 173.08,563.55 172.66,565.6 173.08,567.9 172.4,570.43 172.93,572.65 172.51,575.06 172.81,577.31 172.42,579.59 172.39,581.86 171.73,583.91 171.66,586.37 170.9,588.71 171,590.69 170.27,593.27 170.45,595.29 169.61,597.47 169.94,600.09 169.86,598.83 169.18,596.48 169.68,594.27 169.43,592 169.51,589.69 169.42,587.42 169.47,584.82 169.05,582.46 169.72,580.47 169.21,578.18 169.58,575.66 168.94,573.28 169.58,571.02 168.98,568.82 169.24,566.44 168.96,564.45 167.56,564.49 168.15,566.96 167.68,569.3 167.73,571.52 167.47,573.96 167.8,576.24 167.45,578.34 167.96,580.59 167.52,582.92 167.56,585.24 167.44,587.84 167.51,589.95 167.28,592.37 167.53,594.55 167.17,596.98 167.51,599.37 167.24,598.41 166.6,596.34 166.34,594.06 165.52,591.94 165.75,589.6 164.91,587.24 164.8,584.93 164.52,582.54 164.88,580.21 164.17,578.01 164.81,575.8 164.16,573.66 164.47,571.18 164.15,569.01 164.6,566.66 164,564.24 164.28,562.09 163.32,560.99 162.24,562.34 162.84,564.73 162.15,566.98 162.81,569.19 162.1,571.51 162.66,574.03 162,576.05 162.4,578.43 162.08,580.65 162.36,582.98 162.3,584.19 160.77,582.38 160.27,579.87 159.39,578.05 158.79,575.63 157.35,573.75 156.56,572.28 156.37,574.64 155.37,577.04 155.25,579.25 154.21,581.34 153.76,583.76 153.16,583.76 152.27,581.85 150,581.82 148.36,580.69 148.1,578.61 147.24,576.74 146.74,578.79 146.75,581.03 145.93,583.3 144.48,584.86 145.91,581.8 143.31,580.73 140.98,579.83 139.83,582.88 137.98,581.12 134.62,581.82 133.6,578.85 131.35,582.28 127.84,580.47 127.28,583.97 125.02,583.27 123.77,586.52 121.14,586.77 121.02,589.91 118.2,589.52 117.14,593.16 113.88,592.23 112.4,595.16 111.68,592.94 109.37,590.33 111.42,588.56 109.71,585.88 113.05,584.66 111.23,582.12 110.87,579.68 110.06,581.85 106.2,581.69 105.99,584.09 102.88,584.56 101.92,586.35 100.3,583.22 96.86,584.29 96.85,580.64 94.25,580.81 93.58,577 90.48,577.12 90.22,574.18 87.17,575.13 85.25,572.25 82.47,573.45 80.23,571.5 77.76,572.6 76.61,570 73.71,570.62 73.88,567.69 72.95,566.21 75.01,565.25 75.19,562.38 76.38,560.4 74.56,557.3 75.79,555.93 74.16,553 75.46,550.3 72.93,549.3 74.52,545.74 72.42,544.94 73.03,542.51 72.02,539.92 75.25,539.14 74.74,535.96 77.17,534.9 76.38,531.94 79.14,530.73 78.05,527 80.69,525.81 80.33,522.64 83.38,521.96 82.71,519.37 85.57,518.49 83.6,515.57 87.02,513.61 85.15,511.62 86.53,508.55 84.65,506.41 85.44,504.14 81.5,503.47 82.67,500.7 79.04,500.13 80.33,496.55 78.12,494.41 79.46,492.31 76.19,491.17 77.18,487.73 74.37,487.03 74.98,483.74 72.75,482.11 75.13,479.22 72.65,477.13 75.01,475.22 73.76,473.18 76.84,471.53 74.84,468.23 77.24,466.58 75.71,464.28 77.41,461.82 75.25,460.4 74.99,457.01 71.81,455.84 74.52,453.5 71.64,451.86" fill="none" stroke="#8a4cf6" stroke-width="0.7" stroke-linejoin="round"/>
<g class="pu"><path d="M71.84 447.29l1.85 1.85l-1.85 1.85l-1.85 -1.85z"/><path d="M74.88 449.34l1.85 1.85l-1.85 1.85l-1.85 -1.85z"/><path d="M76.89 447.5l1.85 1.85l-1.85 1.85l-1.85 -1.85z"/><path d="M78.99 449.17l1.85 1.85l-1.85 1.85l-1.85 -1.85z"/><path d="M80.53 446.3l1.85 1.85l-1.85 1.85l-1.85 -1.85z"/><path d="M83.41 447.33l1.85 1.85l-1.85 1.85l-1.85 -1.85z"/><path d="M85.4 445.45l1.85 1.85l-1.85 1.85l-1.85 -1.85z"/><path d="M87.98 446.13l1.85 1.85l-1.85 1.85l-1.85 -1.85z"/><path d="M89.56 443.99l1.85 1.85l-1.85 1.85l-1.85 -1.85z"/><path d="M92.59 443.73l1.85 1.85l-1.85 1.85l-1.85 -1.85z"/><path d="M93.48 440.23l1.85 1.85l-1.85 1.85l-1.85 -1.85z"/><path d="M96.44 440.35l1.85 1.85l-1.85 1.85l-1.85 -1.85z"/><path d="M95.47 436.96l1.85 1.85l-1.85 1.85l-1.85 -1.85z"/><path d="M98.64 437.71l1.85 1.85l-1.85 1.85l-1.85 -1.85z"/><path d="M99.71 434.63l1.85 1.85l-1.85 1.85l-1.85 -1.85z"/><path d="M102.3 436.29l1.85 1.85l-1.85 1.85l-1.85 -1.85z"/><path d="M105 435.4l1.85 1.85l-1.85 1.85l-1.85 -1.85z"/><path d="M104.97 438.76l1.85 1.85l-1.85 1.85l-1.85 -1.85z"/><path d="M108.82 438.26l1.85 1.85l-1.85 1.85l-1.85 -1.85z"/><path d="M109.46 441.42l1.85 1.85l-1.85 1.85l-1.85 -1.85z"/><path d="M111.92 440.02l1.85 1.85l-1.85 1.85l-1.85 -1.85z"/><path d="M113.59 439.86l1.85 1.85l-1.85 1.85l-1.85 -1.85z"/><path d="M110.1 438.08l1.85 1.85l-1.85 1.85l-1.85 -1.85z"/><path d="M111.84 435.58l1.85 1.85l-1.85 1.85l-1.85 -1.85z"/><path d="M109.25 433.22l1.85 1.85l-1.85 1.85l-1.85 -1.85z"/><path d="M111.64 430.73l1.85 1.85l-1.85 1.85l-1.85 -1.85z"/><path d="M109.38 428.88l1.85 1.85l-1.85 1.85l-1.85 -1.85z"/><path d="M111.69 427.04l1.85 1.85l-1.85 1.85l-1.85 -1.85z"/><path d="M111.62 424.6l1.85 1.85l-1.85 1.85l-1.85 -1.85z"/><path d="M113.42 427.89l1.85 1.85l-1.85 1.85l-1.85 -1.85z"/><path d="M116.73 427.38l1.85 1.85l-1.85 1.85l-1.85 -1.85z"/><path d="M116.8 430.9l1.85 1.85l-1.85 1.85l-1.85 -1.85z"/><path d="M119.86 430.6l1.85 1.85l-1.85 1.85l-1.85 -1.85z"/><path d="M120.34 434.37l1.85 1.85l-1.85 1.85l-1.85 -1.85z"/><path d="M123.07 434.09l1.85 1.85l-1.85 1.85l-1.85 -1.85z"/><path d="M122.71 437.38l1.85 1.85l-1.85 1.85l-1.85 -1.85z"/><path d="M126.59 437.34l1.85 1.85l-1.85 1.85l-1.85 -1.85z"/><path d="M127.55 439.55l1.85 1.85l-1.85 1.85l-1.85 -1.85z"/><path d="M130.14 439.36l1.85 1.85l-1.85 1.85l-1.85 -1.85z"/><path d="M130.5 442.19l1.85 1.85l-1.85 1.85l-1.85 -1.85z"/><path d="M133.11 440.95l1.85 1.85l-1.85 1.85l-1.85 -1.85z"/><path d="M135.09 441.84l1.85 1.85l-1.85 1.85l-1.85 -1.85z"/><path d="M133.96 438.18l1.85 1.85l-1.85 1.85l-1.85 -1.85z"/><path d="M136.75 438.04l1.85 1.85l-1.85 1.85l-1.85 -1.85z"/><path d="M137.86 435.77l1.85 1.85l-1.85 1.85l-1.85 -1.85z"/><path d="M139.78 439.15l1.85 1.85l-1.85 1.85l-1.85 -1.85z"/><path d="M143.17 438.6l1.85 1.85l-1.85 1.85l-1.85 -1.85z"/><path d="M142.69 441.31l1.85 1.85l-1.85 1.85l-1.85 -1.85z"/><path d="M145.92 441.86l1.85 1.85l-1.85 1.85l-1.85 -1.85z"/><path d="M205 438.48l1.85 1.85l-1.85 1.85l-1.85 -1.85z"/><path d="M203.64 435.85l1.85 1.85l-1.85 1.85l-1.85 -1.85z"/><path d="M206.63 435.88l1.85 1.85l-1.85 1.85l-1.85 -1.85z"/><path d="M207.06 433.35l1.85 1.85l-1.85 1.85l-1.85 -1.85z"/><path d="M209.25 433.98l1.85 1.85l-1.85 1.85l-1.85 -1.85z"/><path d="M211.34 434.77l1.85 1.85l-1.85 1.85l-1.85 -1.85z"/><path d="M211.42 437.69l1.85 1.85l-1.85 1.85l-1.85 -1.85z"/><path d="M213.81 438.01l1.85 1.85l-1.85 1.85l-1.85 -1.85z"/><path d="M215.6 440.27l1.85 1.85l-1.85 1.85l-1.85 -1.85z"/><path d="M215.7 436.85l1.85 1.85l-1.85 1.85l-1.85 -1.85z"/><path d="M219.84 436.27l1.85 1.85l-1.85 1.85l-1.85 -1.85z"/><path d="M220.55 433.9l1.85 1.85l-1.85 1.85l-1.85 -1.85z"/><path d="M223.66 433.95l1.85 1.85l-1.85 1.85l-1.85 -1.85z"/><path d="M223.73 430.97l1.85 1.85l-1.85 1.85l-1.85 -1.85z"/><path d="M227.6 431.8l1.85 1.85l-1.85 1.85l-1.85 -1.85z"/><path d="M227.63 428.54l1.85 1.85l-1.85 1.85l-1.85 -1.85z"/><path d="M230.65 428.76l1.85 1.85l-1.85 1.85l-1.85 -1.85z"/><path d="M231.2 426.63l1.85 1.85l-1.85 1.85l-1.85 -1.85z"/><path d="M234.54 427.24l1.85 1.85l-1.85 1.85l-1.85 -1.85z"/><path d="M236.22 423.22l1.85 1.85l-1.85 1.85l-1.85 -1.85z"/><path d="M234.87 426.25l1.85 1.85l-1.85 1.85l-1.85 -1.85z"/><path d="M236.75 429.59l1.85 1.85l-1.85 1.85l-1.85 -1.85z"/><path d="M235.02 431.65l1.85 1.85l-1.85 1.85l-1.85 -1.85z"/><path d="M237.11 433.89l1.85 1.85l-1.85 1.85l-1.85 -1.85z"/><path d="M235.73 436.06l1.85 1.85l-1.85 1.85l-1.85 -1.85z"/><path d="M237.41 436.49l1.85 1.85l-1.85 1.85l-1.85 -1.85z"/><path d="M239.52 437.7l1.85 1.85l-1.85 1.85l-1.85 -1.85z"/><path d="M240.34 434.84l1.85 1.85l-1.85 1.85l-1.85 -1.85z"/><path d="M242.89 434.81l1.85 1.85l-1.85 1.85l-1.85 -1.85z"/><path d="M244.51 431.84l1.85 1.85l-1.85 1.85l-1.85 -1.85z"/><path d="M246.87 432.91l1.85 1.85l-1.85 1.85l-1.85 -1.85z"/><path d="M248.45 430.95l1.85 1.85l-1.85 1.85l-1.85 -1.85z"/><path d="M250.87 432.74l1.85 1.85l-1.85 1.85l-1.85 -1.85z"/><path d="M253.16 433.43l1.85 1.85l-1.85 1.85l-1.85 -1.85z"/><path d="M252.09 436.58l1.85 1.85l-1.85 1.85l-1.85 -1.85z"/><path d="M254.58 437.34l1.85 1.85l-1.85 1.85l-1.85 -1.85z"/><path d="M254.04 441.34l1.85 1.85l-1.85 1.85l-1.85 -1.85z"/><path d="M257.58 440.96l1.85 1.85l-1.85 1.85l-1.85 -1.85z"/><path d="M257.89 445.15l1.85 1.85l-1.85 1.85l-1.85 -1.85z"/><path d="M259.94 443.51l1.85 1.85l-1.85 1.85l-1.85 -1.85z"/><path d="M261.89 445.04l1.85 1.85l-1.85 1.85l-1.85 -1.85z"/><path d="M264.22 442.5l1.85 1.85l-1.85 1.85l-1.85 -1.85z"/><path d="M265.48 445.81l1.85 1.85l-1.85 1.85l-1.85 -1.85z"/><path d="M268.83 445.61l1.85 1.85l-1.85 1.85l-1.85 -1.85z"/><path d="M270.55 447.77l1.85 1.85l-1.85 1.85l-1.85 -1.85z"/><path d="M273.12 446.39l1.85 1.85l-1.85 1.85l-1.85 -1.85z"/><path d="M273.74 449.29l1.85 1.85l-1.85 1.85l-1.85 -1.85z"/><path d="M276.79 449.87l1.85 1.85l-1.85 1.85l-1.85 -1.85z"/><path d="M274.7 450.74l1.85 1.85l-1.85 1.85l-1.85 -1.85z"/><path d="M274.19 454.45l1.85 1.85l-1.85 1.85l-1.85 -1.85z"/><path d="M271.44 454.33l1.85 1.85l-1.85 1.85l-1.85 -1.85z"/><path d="M271.36 457.55l1.85 1.85l-1.85 1.85l-1.85 -1.85z"/><path d="M268.37 458.74l1.85 1.85l-1.85 1.85l-1.85 -1.85z"/><path d="M270.63 461.58l1.85 1.85l-1.85 1.85l-1.85 -1.85z"/><path d="M269.28 463.23l1.85 1.85l-1.85 1.85l-1.85 -1.85z"/><path d="M271.17 465.36l1.85 1.85l-1.85 1.85l-1.85 -1.85z"/><path d="M271.02 468.03l1.85 1.85l-1.85 1.85l-1.85 -1.85z"/><path d="M273.55 468.78l1.85 1.85l-1.85 1.85l-1.85 -1.85z"/><path d="M272.11 472.78l1.85 1.85l-1.85 1.85l-1.85 -1.85z"/><path d="M275.32 474.36l1.85 1.85l-1.85 1.85l-1.85 -1.85z"/><path d="M273.59 476.25l1.85 1.85l-1.85 1.85l-1.85 -1.85z"/><path d="M275.02 478.41l1.85 1.85l-1.85 1.85l-1.85 -1.85z"/><path d="M272.7 480.4l1.85 1.85l-1.85 1.85l-1.85 -1.85z"/><path d="M273.68 483.48l1.85 1.85l-1.85 1.85l-1.85 -1.85z"/><path d="M270.18 484.08l1.85 1.85l-1.85 1.85l-1.85 -1.85z"/><path d="M270.63 486.59l1.85 1.85l-1.85 1.85l-1.85 -1.85z"/><path d="M268.25 489.03l1.85 1.85l-1.85 1.85l-1.85 -1.85z"/><path d="M270.95 491.28l1.85 1.85l-1.85 1.85l-1.85 -1.85z"/><path d="M269.27 492.5l1.85 1.85l-1.85 1.85l-1.85 -1.85z"/><path d="M269.42 495.29l1.85 1.85l-1.85 1.85l-1.85 -1.85z"/><path d="M266.95 496.62l1.85 1.85l-1.85 1.85l-1.85 -1.85z"/><path d="M267 498.94l1.85 1.85l-1.85 1.85l-1.85 -1.85z"/><path d="M264.5 500.55l1.85 1.85l-1.85 1.85l-1.85 -1.85z"/><path d="M265.27 503.17l1.85 1.85l-1.85 1.85l-1.85 -1.85z"/><path d="M262.51 504.03l1.85 1.85l-1.85 1.85l-1.85 -1.85z"/><path d="M263.35 507.53l1.85 1.85l-1.85 1.85l-1.85 -1.85z"/><path d="M261.32 509.35l1.85 1.85l-1.85 1.85l-1.85 -1.85z"/><path d="M263.22 511.42l1.85 1.85l-1.85 1.85l-1.85 -1.85z"/><path d="M261 513.81l1.85 1.85l-1.85 1.85l-1.85 -1.85z"/><path d="M264.67 515.77l1.85 1.85l-1.85 1.85l-1.85 -1.85z"/><path d="M262.93 517.92l1.85 1.85l-1.85 1.85l-1.85 -1.85z"/><path d="M266.16 519.76l1.85 1.85l-1.85 1.85l-1.85 -1.85z"/><path d="M265.19 522.38l1.85 1.85l-1.85 1.85l-1.85 -1.85z"/><path d="M268.66 523.82l1.85 1.85l-1.85 1.85l-1.85 -1.85z"/><path d="M267.73 525.91l1.85 1.85l-1.85 1.85l-1.85 -1.85z"/><path d="M271.06 526.98l1.85 1.85l-1.85 1.85l-1.85 -1.85z"/><path d="M270.48 529.61l1.85 1.85l-1.85 1.85l-1.85 -1.85z"/><path d="M273.07 532.07l1.85 1.85l-1.85 1.85l-1.85 -1.85z"/><path d="M270.87 534.12l1.85 1.85l-1.85 1.85l-1.85 -1.85z"/><path d="M274.23 535.6l1.85 1.85l-1.85 1.85l-1.85 -1.85z"/><path d="M273.44 538.52l1.85 1.85l-1.85 1.85l-1.85 -1.85z"/><path d="M276.01 540.31l1.85 1.85l-1.85 1.85l-1.85 -1.85z"/><path d="M273.23 542.28l1.85 1.85l-1.85 1.85l-1.85 -1.85z"/><path d="M274.44 544.35l1.85 1.85l-1.85 1.85l-1.85 -1.85z"/><path d="M271.04 545.9l1.85 1.85l-1.85 1.85l-1.85 -1.85z"/><path d="M273.59 549.01l1.85 1.85l-1.85 1.85l-1.85 -1.85z"/><path d="M271.05 550.79l1.85 1.85l-1.85 1.85l-1.85 -1.85z"/><path d="M273.59 553.56l1.85 1.85l-1.85 1.85l-1.85 -1.85z"/><path d="M271.37 554.84l1.85 1.85l-1.85 1.85l-1.85 -1.85z"/><path d="M273.47 557.54l1.85 1.85l-1.85 1.85l-1.85 -1.85z"/><path d="M272.29 560.6l1.85 1.85l-1.85 1.85l-1.85 -1.85z"/><path d="M274.95 562.37l1.85 1.85l-1.85 1.85l-1.85 -1.85z"/><path d="M273.92 564.5l1.85 1.85l-1.85 1.85l-1.85 -1.85z"/><path d="M275.98 566.45l1.85 1.85l-1.85 1.85l-1.85 -1.85z"/><path d="M275.59 568.15l1.85 1.85l-1.85 1.85l-1.85 -1.85z"/><path d="M276.83 570.58l1.85 1.85l-1.85 1.85l-1.85 -1.85z"/><path d="M273.59 568.45l1.85 1.85l-1.85 1.85l-1.85 -1.85z"/><path d="M271.38 570.63l1.85 1.85l-1.85 1.85l-1.85 -1.85z"/><path d="M268.81 569.35l1.85 1.85l-1.85 1.85l-1.85 -1.85z"/><path d="M268.04 571.77l1.85 1.85l-1.85 1.85l-1.85 -1.85z"/><path d="M265.12 570.85l1.85 1.85l-1.85 1.85l-1.85 -1.85z"/><path d="M263.3 574.55l1.85 1.85l-1.85 1.85l-1.85 -1.85z"/><path d="M260.77 573.29l1.85 1.85l-1.85 1.85l-1.85 -1.85z"/><path d="M259.19 576.5l1.85 1.85l-1.85 1.85l-1.85 -1.85z"/><path d="M256.41 576.59l1.85 1.85l-1.85 1.85l-1.85 -1.85z"/><path d="M255.74 579.03l1.85 1.85l-1.85 1.85l-1.85 -1.85z"/><path d="M253.45 578.61l1.85 1.85l-1.85 1.85l-1.85 -1.85z"/><path d="M252.96 582.46l1.85 1.85l-1.85 1.85l-1.85 -1.85z"/><path d="M250.88 583.05l1.85 1.85l-1.85 1.85l-1.85 -1.85z"/><path d="M251.51 586.19l1.85 1.85l-1.85 1.85l-1.85 -1.85z"/><path d="M250.21 585.16l1.85 1.85l-1.85 1.85l-1.85 -1.85z"/><path d="M247.43 587.42l1.85 1.85l-1.85 1.85l-1.85 -1.85z"/><path d="M245.42 583.91l1.85 1.85l-1.85 1.85l-1.85 -1.85z"/><path d="M243.25 585.54l1.85 1.85l-1.85 1.85l-1.85 -1.85z"/><path d="M241.11 582.76l1.85 1.85l-1.85 1.85l-1.85 -1.85z"/><path d="M238.21 583.39l1.85 1.85l-1.85 1.85l-1.85 -1.85z"/><path d="M236.47 581.03l1.85 1.85l-1.85 1.85l-1.85 -1.85z"/><path d="M236.67 582.04l1.85 1.85l-1.85 1.85l-1.85 -1.85z"/><path d="M235.47 583.42l1.85 1.85l-1.85 1.85l-1.85 -1.85z"/><path d="M237.48 585.34l1.85 1.85l-1.85 1.85l-1.85 -1.85z"/><path d="M237.05 588.68l1.85 1.85l-1.85 1.85l-1.85 -1.85z"/><path d="M238.63 589.91l1.85 1.85l-1.85 1.85l-1.85 -1.85z"/><path d="M236.11 592.21l1.85 1.85l-1.85 1.85l-1.85 -1.85z"/><path d="M238.39 594.8l1.85 1.85l-1.85 1.85l-1.85 -1.85z"/><path d="M236.56 594.4l1.85 1.85l-1.85 1.85l-1.85 -1.85z"/><path d="M233.75 594.88l1.85 1.85l-1.85 1.85l-1.85 -1.85z"/><path d="M233.09 591.18l1.85 1.85l-1.85 1.85l-1.85 -1.85z"/><path d="M229.61 591.56l1.85 1.85l-1.85 1.85l-1.85 -1.85z"/><path d="M229.5 588.14l1.85 1.85l-1.85 1.85l-1.85 -1.85z"/><path d="M225.66 589.51l1.85 1.85l-1.85 1.85l-1.85 -1.85z"/><path d="M225.01 585.58l1.85 1.85l-1.85 1.85l-1.85 -1.85z"/><path d="M221.63 586.78l1.85 1.85l-1.85 1.85l-1.85 -1.85z"/><path d="M221.18 584.23l1.85 1.85l-1.85 1.85l-1.85 -1.85z"/><path d="M218.72 584.9l1.85 1.85l-1.85 1.85l-1.85 -1.85z"/><path d="M217.28 580.72l1.85 1.85l-1.85 1.85l-1.85 -1.85z"/><path d="M213.94 581.65l1.85 1.85l-1.85 1.85l-1.85 -1.85z"/><path d="M213.36 578.25l1.85 1.85l-1.85 1.85l-1.85 -1.85z"/><path d="M212.74 581.52l1.85 1.85l-1.85 1.85l-1.85 -1.85z"/><path d="M210.24 582.86l1.85 1.85l-1.85 1.85l-1.85 -1.85z"/><path d="M211.18 586.36l1.85 1.85l-1.85 1.85l-1.85 -1.85z"/><path d="M209.16 584.22l1.85 1.85l-1.85 1.85l-1.85 -1.85z"/><path d="M206.6 584.99l1.85 1.85l-1.85 1.85l-1.85 -1.85z"/><path d="M205.47 581.8l1.85 1.85l-1.85 1.85l-1.85 -1.85z"/><path d="M202.83 583.58l1.85 1.85l-1.85 1.85l-1.85 -1.85z"/><path d="M145.93 581.45l1.85 1.85l-1.85 1.85l-1.85 -1.85z"/><path d="M144.48 583.01l1.85 1.85l-1.85 1.85l-1.85 -1.85z"/><path d="M145.91 579.95l1.85 1.85l-1.85 1.85l-1.85 -1.85z"/><path d="M143.31 578.88l1.85 1.85l-1.85 1.85l-1.85 -1.85z"/><path d="M140.98 577.98l1.85 1.85l-1.85 1.85l-1.85 -1.85z"/><path d="M139.83 581.03l1.85 1.85l-1.85 1.85l-1.85 -1.85z"/><path d="M137.98 579.27l1.85 1.85l-1.85 1.85l-1.85 -1.85z"/><path d="M134.62 579.97l1.85 1.85l-1.85 1.85l-1.85 -1.85z"/><path d="M133.6 577l1.85 1.85l-1.85 1.85l-1.85 -1.85z"/><path d="M131.35 580.43l1.85 1.85l-1.85 1.85l-1.85 -1.85z"/><path d="M127.84 578.62l1.85 1.85l-1.85 1.85l-1.85 -1.85z"/><path d="M127.28 582.12l1.85 1.85l-1.85 1.85l-1.85 -1.85z"/><path d="M125.02 581.42l1.85 1.85l-1.85 1.85l-1.85 -1.85z"/><path d="M123.77 584.67l1.85 1.85l-1.85 1.85l-1.85 -1.85z"/><path d="M121.14 584.92l1.85 1.85l-1.85 1.85l-1.85 -1.85z"/><path d="M121.02 588.06l1.85 1.85l-1.85 1.85l-1.85 -1.85z"/><path d="M118.2 587.67l1.85 1.85l-1.85 1.85l-1.85 -1.85z"/><path d="M117.14 591.31l1.85 1.85l-1.85 1.85l-1.85 -1.85z"/><path d="M113.88 590.38l1.85 1.85l-1.85 1.85l-1.85 -1.85z"/><path d="M112.4 593.31l1.85 1.85l-1.85 1.85l-1.85 -1.85z"/><path d="M111.68 591.09l1.85 1.85l-1.85 1.85l-1.85 -1.85z"/><path d="M109.37 588.48l1.85 1.85l-1.85 1.85l-1.85 -1.85z"/><path d="M111.42 586.71l1.85 1.85l-1.85 1.85l-1.85 -1.85z"/><path d="M109.71 584.03l1.85 1.85l-1.85 1.85l-1.85 -1.85z"/><path d="M113.05 582.81l1.85 1.85l-1.85 1.85l-1.85 -1.85z"/><path d="M111.23 580.27l1.85 1.85l-1.85 1.85l-1.85 -1.85z"/><path d="M110.87 577.83l1.85 1.85l-1.85 1.85l-1.85 -1.85z"/><path d="M110.06 580l1.85 1.85l-1.85 1.85l-1.85 -1.85z"/><path d="M106.2 579.84l1.85 1.85l-1.85 1.85l-1.85 -1.85z"/><path d="M105.99 582.24l1.85 1.85l-1.85 1.85l-1.85 -1.85z"/><path d="M102.88 582.71l1.85 1.85l-1.85 1.85l-1.85 -1.85z"/><path d="M101.92 584.5l1.85 1.85l-1.85 1.85l-1.85 -1.85z"/><path d="M100.3 581.37l1.85 1.85l-1.85 1.85l-1.85 -1.85z"/><path d="M96.86 582.44l1.85 1.85l-1.85 1.85l-1.85 -1.85z"/><path d="M96.85 578.79l1.85 1.85l-1.85 1.85l-1.85 -1.85z"/><path d="M94.25 578.96l1.85 1.85l-1.85 1.85l-1.85 -1.85z"/><path d="M93.58 575.15l1.85 1.85l-1.85 1.85l-1.85 -1.85z"/><path d="M90.48 575.27l1.85 1.85l-1.85 1.85l-1.85 -1.85z"/><path d="M90.22 572.33l1.85 1.85l-1.85 1.85l-1.85 -1.85z"/><path d="M87.17 573.28l1.85 1.85l-1.85 1.85l-1.85 -1.85z"/><path d="M85.25 570.4l1.85 1.85l-1.85 1.85l-1.85 -1.85z"/><path d="M82.47 571.6l1.85 1.85l-1.85 1.85l-1.85 -1.85z"/><path d="M80.23 569.65l1.85 1.85l-1.85 1.85l-1.85 -1.85z"/><path d="M77.76 570.75l1.85 1.85l-1.85 1.85l-1.85 -1.85z"/><path d="M76.61 568.15l1.85 1.85l-1.85 1.85l-1.85 -1.85z"/><path d="M73.71 568.77l1.85 1.85l-1.85 1.85l-1.85 -1.85z"/><path d="M73.88 565.84l1.85 1.85l-1.85 1.85l-1.85 -1.85z"/><path d="M72.95 564.36l1.85 1.85l-1.85 1.85l-1.85 -1.85z"/><path d="M75.01 563.4l1.85 1.85l-1.85 1.85l-1.85 -1.85z"/><path d="M75.19 560.53l1.85 1.85l-1.85 1.85l-1.85 -1.85z"/><path d="M76.38 558.55l1.85 1.85l-1.85 1.85l-1.85 -1.85z"/><path d="M74.56 555.45l1.85 1.85l-1.85 1.85l-1.85 -1.85z"/><path d="M75.79 554.08l1.85 1.85l-1.85 1.85l-1.85 -1.85z"/><path d="M74.16 551.15l1.85 1.85l-1.85 1.85l-1.85 -1.85z"/><path d="M75.46 548.45l1.85 1.85l-1.85 1.85l-1.85 -1.85z"/><path d="M72.93 547.45l1.85 1.85l-1.85 1.85l-1.85 -1.85z"/><path d="M74.52 543.89l1.85 1.85l-1.85 1.85l-1.85 -1.85z"/><path d="M72.42 543.09l1.85 1.85l-1.85 1.85l-1.85 -1.85z"/><path d="M73.03 540.66l1.85 1.85l-1.85 1.85l-1.85 -1.85z"/><path d="M72.02 538.07l1.85 1.85l-1.85 1.85l-1.85 -1.85z"/><path d="M75.25 537.29l1.85 1.85l-1.85 1.85l-1.85 -1.85z"/><path d="M74.74 534.11l1.85 1.85l-1.85 1.85l-1.85 -1.85z"/><path d="M77.17 533.05l1.85 1.85l-1.85 1.85l-1.85 -1.85z"/><path d="M76.38 530.09l1.85 1.85l-1.85 1.85l-1.85 -1.85z"/><path d="M79.14 528.88l1.85 1.85l-1.85 1.85l-1.85 -1.85z"/><path d="M78.05 525.15l1.85 1.85l-1.85 1.85l-1.85 -1.85z"/><path d="M80.69 523.96l1.85 1.85l-1.85 1.85l-1.85 -1.85z"/><path d="M80.33 520.79l1.85 1.85l-1.85 1.85l-1.85 -1.85z"/><path d="M83.38 520.11l1.85 1.85l-1.85 1.85l-1.85 -1.85z"/><path d="M82.71 517.52l1.85 1.85l-1.85 1.85l-1.85 -1.85z"/><path d="M85.57 516.64l1.85 1.85l-1.85 1.85l-1.85 -1.85z"/><path d="M83.6 513.72l1.85 1.85l-1.85 1.85l-1.85 -1.85z"/><path d="M87.02 511.76l1.85 1.85l-1.85 1.85l-1.85 -1.85z"/><path d="M85.15 509.77l1.85 1.85l-1.85 1.85l-1.85 -1.85z"/><path d="M86.53 506.7l1.85 1.85l-1.85 1.85l-1.85 -1.85z"/><path d="M84.65 504.56l1.85 1.85l-1.85 1.85l-1.85 -1.85z"/><path d="M85.44 502.29l1.85 1.85l-1.85 1.85l-1.85 -1.85z"/><path d="M81.5 501.62l1.85 1.85l-1.85 1.85l-1.85 -1.85z"/><path d="M82.67 498.85l1.85 1.85l-1.85 1.85l-1.85 -1.85z"/><path d="M79.04 498.28l1.85 1.85l-1.85 1.85l-1.85 -1.85z"/><path d="M80.33 494.7l1.85 1.85l-1.85 1.85l-1.85 -1.85z"/><path d="M78.12 492.56l1.85 1.85l-1.85 1.85l-1.85 -1.85z"/><path d="M79.46 490.46l1.85 1.85l-1.85 1.85l-1.85 -1.85z"/><path d="M76.19 489.32l1.85 1.85l-1.85 1.85l-1.85 -1.85z"/><path d="M77.18 485.88l1.85 1.85l-1.85 1.85l-1.85 -1.85z"/><path d="M74.37 485.18l1.85 1.85l-1.85 1.85l-1.85 -1.85z"/><path d="M74.98 481.89l1.85 1.85l-1.85 1.85l-1.85 -1.85z"/><path d="M72.75 480.26l1.85 1.85l-1.85 1.85l-1.85 -1.85z"/><path d="M75.13 477.37l1.85 1.85l-1.85 1.85l-1.85 -1.85z"/><path d="M72.65 475.28l1.85 1.85l-1.85 1.85l-1.85 -1.85z"/><path d="M75.01 473.37l1.85 1.85l-1.85 1.85l-1.85 -1.85z"/><path d="M73.76 471.33l1.85 1.85l-1.85 1.85l-1.85 -1.85z"/><path d="M76.84 469.68l1.85 1.85l-1.85 1.85l-1.85 -1.85z"/><path d="M74.84 466.38l1.85 1.85l-1.85 1.85l-1.85 -1.85z"/><path d="M77.24 464.73l1.85 1.85l-1.85 1.85l-1.85 -1.85z"/><path d="M75.71 462.43l1.85 1.85l-1.85 1.85l-1.85 -1.85z"/><path d="M77.41 459.97l1.85 1.85l-1.85 1.85l-1.85 -1.85z"/><path d="M75.25 458.55l1.85 1.85l-1.85 1.85l-1.85 -1.85z"/><path d="M74.99 455.16l1.85 1.85l-1.85 1.85l-1.85 -1.85z"/><path d="M71.81 453.99l1.85 1.85l-1.85 1.85l-1.85 -1.85z"/><path d="M74.52 451.65l1.85 1.85l-1.85 1.85l-1.85 -1.85z"/><path d="M71.64 450.01l1.85 1.85l-1.85 1.85l-1.85 -1.85z"/></g>
<g class="pu"><circle cx="147.34" cy="445.52" r="1.0"/><circle cx="148.21" cy="444.53" r="1.0"/><circle cx="149.42" cy="442.71" r="1.0"/><circle cx="150.34" cy="440.46" r="1.0"/><circle cx="152.24" cy="439.52" r="1.0"/><circle cx="154.07" cy="438.55" r="1.0"/><circle cx="154.67" cy="441.03" r="1.0"/><circle cx="155.53" cy="443.09" r="1.0"/><circle cx="155.87" cy="445.18" r="1.0"/><circle cx="157.01" cy="447.56" r="1.0"/><circle cx="157.27" cy="449.88" r="1.0"/><circle cx="158.12" cy="451.81" r="1.0"/><circle cx="158.31" cy="454.22" r="1.0"/><circle cx="159.36" cy="456.07" r="1.0"/><circle cx="159.73" cy="458.42" r="1.0"/><circle cx="160.85" cy="460.45" r="1.0"/><circle cx="161.02" cy="462.81" r="1.0"/><circle cx="162.12" cy="464.96" r="1.0"/><circle cx="162.59" cy="466.31" r="1.0"/><circle cx="162.4" cy="463.66" r="1.0"/><circle cx="162.62" cy="461.43" r="1.0"/><circle cx="162.23" cy="459.05" r="1.0"/><circle cx="162.78" cy="457.09" r="1.0"/><circle cx="162.19" cy="454.59" r="1.0"/><circle cx="162.41" cy="452.14" r="1.0"/><circle cx="162.07" cy="449.91" r="1.0"/><circle cx="162.63" cy="447.56" r="1.0"/><circle cx="161.87" cy="445.58" r="1.0"/><circle cx="162.44" cy="442.96" r="1.0"/><circle cx="162.45" cy="441.99" r="1.0"/><circle cx="162.16" cy="444.7" r="1.0"/><circle cx="162.8" cy="446.86" r="1.0"/><circle cx="162.28" cy="449.05" r="1.0"/><circle cx="162.75" cy="451.49" r="1.0"/><circle cx="162.61" cy="453.81" r="1.0"/><circle cx="163.04" cy="455.86" r="1.0"/><circle cx="162.95" cy="458.48" r="1.0"/><circle cx="163.48" cy="460.69" r="1.0"/><circle cx="163.17" cy="462.98" r="1.0"/><circle cx="163.44" cy="465.13" r="1.0"/><circle cx="164.16" cy="467.02" r="1.0"/><circle cx="165.86" cy="468.56" r="1.0"/><circle cx="167.08" cy="469.49" r="1.0"/><circle cx="167.01" cy="466.99" r="1.0"/><circle cx="167.42" cy="464.91" r="1.0"/><circle cx="167.05" cy="462.35" r="1.0"/><circle cx="167.18" cy="460" r="1.0"/><circle cx="166.79" cy="457.69" r="1.0"/><circle cx="167.38" cy="455.67" r="1.0"/><circle cx="167.08" cy="453.2" r="1.0"/><circle cx="167.43" cy="451.03" r="1.0"/><circle cx="166.82" cy="448.67" r="1.0"/><circle cx="167.57" cy="446.43" r="1.0"/><circle cx="167.13" cy="444" r="1.0"/><circle cx="167.32" cy="441.83" r="1.0"/><circle cx="167" cy="439.53" r="1.0"/><circle cx="167.68" cy="437.07" r="1.0"/><circle cx="167.07" cy="434.99" r="1.0"/><circle cx="167.62" cy="432.38" r="1.0"/><circle cx="167" cy="430.07" r="1.0"/><circle cx="167.73" cy="428.04" r="1.0"/><circle cx="167.06" cy="425.68" r="1.0"/><circle cx="168.77" cy="424.33" r="1.0"/><circle cx="168.97" cy="426.13" r="1.0"/><circle cx="168.51" cy="428.23" r="1.0"/><circle cx="169.28" cy="430.78" r="1.0"/><circle cx="168.73" cy="433.2" r="1.0"/><circle cx="169.12" cy="435.47" r="1.0"/><circle cx="168.91" cy="437.51" r="1.0"/><circle cx="169.11" cy="439.84" r="1.0"/><circle cx="168.73" cy="442.26" r="1.0"/><circle cx="169.17" cy="444.49" r="1.0"/><circle cx="168.75" cy="446.99" r="1.0"/><circle cx="169.27" cy="449.1" r="1.0"/><circle cx="168.99" cy="451.58" r="1.0"/><circle cx="169.36" cy="453.88" r="1.0"/><circle cx="169.02" cy="456.04" r="1.0"/><circle cx="169.46" cy="458.12" r="1.0"/><circle cx="169.05" cy="460.5" r="1.0"/><circle cx="169.31" cy="463.04" r="1.0"/><circle cx="169.01" cy="465.21" r="1.0"/><circle cx="169.66" cy="467.54" r="1.0"/><circle cx="169.17" cy="469.95" r="1.0"/><circle cx="169.5" cy="467.99" r="1.0"/><circle cx="170.02" cy="465.67" r="1.0"/><circle cx="169.98" cy="463.22" r="1.0"/><circle cx="170.88" cy="461.09" r="1.0"/><circle cx="170.7" cy="458.86" r="1.0"/><circle cx="171.54" cy="456.5" r="1.0"/><circle cx="171.33" cy="454.19" r="1.0"/><circle cx="171.98" cy="452.04" r="1.0"/><circle cx="171.86" cy="449.64" r="1.0"/><circle cx="172.57" cy="447.58" r="1.0"/><circle cx="172.88" cy="446.42" r="1.0"/><circle cx="172.61" cy="448.52" r="1.0"/><circle cx="172.89" cy="451.08" r="1.0"/><circle cx="172.63" cy="453.07" r="1.0"/><circle cx="172.77" cy="455.48" r="1.0"/><circle cx="172.38" cy="457.71" r="1.0"/><circle cx="172.81" cy="460.17" r="1.0"/><circle cx="172.73" cy="462.57" r="1.0"/><circle cx="172.9" cy="464.79" r="1.0"/><circle cx="172.73" cy="466.87" r="1.0"/><circle cx="173.25" cy="469.49" r="1.0"/><circle cx="172.62" cy="471.79" r="1.0"/><circle cx="173.12" cy="473.9" r="1.0"/><circle cx="172.98" cy="476.35" r="1.0"/><circle cx="172.7" cy="475.86" r="1.0"/><circle cx="173.3" cy="473.54" r="1.0"/><circle cx="172.83" cy="471.22" r="1.0"/><circle cx="173.5" cy="468.81" r="1.0"/><circle cx="173.09" cy="466.67" r="1.0"/><circle cx="173.34" cy="464.34" r="1.0"/><circle cx="173.24" cy="462.1" r="1.0"/><circle cx="173.47" cy="460" r="1.0"/><circle cx="173.42" cy="457.68" r="1.0"/><circle cx="173.61" cy="455.11" r="1.0"/><circle cx="173.24" cy="453.01" r="1.0"/><circle cx="173.79" cy="450.46" r="1.0"/><circle cx="173.51" cy="448.46" r="1.0"/><circle cx="174.13" cy="445.92" r="1.0"/><circle cx="173.78" cy="443.87" r="1.0"/><circle cx="174.66" cy="441.56" r="1.0"/><circle cx="174.39" cy="438.97" r="1.0"/><circle cx="175.35" cy="436.89" r="1.0"/><circle cx="175.02" cy="434.76" r="1.0"/><circle cx="175.96" cy="432.49" r="1.0"/><circle cx="175.67" cy="430.17" r="1.0"/><circle cx="176.38" cy="427.95" r="1.0"/><circle cx="176.41" cy="425.42" r="1.0"/><circle cx="176.98" cy="423.39" r="1.0"/><circle cx="176.6" cy="420.75" r="1.0"/><circle cx="177.24" cy="418.52" r="1.0"/><circle cx="176.8" cy="416.17" r="1.0"/><circle cx="177.28" cy="414.01" r="1.0"/><circle cx="177.44" cy="416" r="1.0"/><circle cx="177.24" cy="418.3" r="1.0"/><circle cx="177.55" cy="420.55" r="1.0"/><circle cx="177.11" cy="422.79" r="1.0"/><circle cx="177.49" cy="425.09" r="1.0"/><circle cx="177.3" cy="427.6" r="1.0"/><circle cx="177.5" cy="429.87" r="1.0"/><circle cx="177.42" cy="432.02" r="1.0"/><circle cx="177.79" cy="434.45" r="1.0"/><circle cx="177.28" cy="436.92" r="1.0"/><circle cx="177.66" cy="439.08" r="1.0"/><circle cx="177.4" cy="441.57" r="1.0"/><circle cx="177.68" cy="443.81" r="1.0"/><circle cx="177.44" cy="446.04" r="1.0"/><circle cx="177.74" cy="448.22" r="1.0"/><circle cx="177.22" cy="450.45" r="1.0"/><circle cx="177.29" cy="449.21" r="1.0"/><circle cx="177.84" cy="446.69" r="1.0"/><circle cx="177.44" cy="444.65" r="1.0"/><circle cx="178.23" cy="442.3" r="1.0"/><circle cx="177.67" cy="439.82" r="1.0"/><circle cx="178.15" cy="437.62" r="1.0"/><circle cx="177.76" cy="435.3" r="1.0"/><circle cx="178.28" cy="433.22" r="1.0"/><circle cx="178.24" cy="430.74" r="1.0"/><circle cx="178.42" cy="428.62" r="1.0"/><circle cx="178.17" cy="425.95" r="1.0"/><circle cx="178.15" cy="428.13" r="1.0"/><circle cx="178.89" cy="430.44" r="1.0"/><circle cx="178.54" cy="432.77" r="1.0"/><circle cx="179.02" cy="434.94" r="1.0"/><circle cx="178.81" cy="437.31" r="1.0"/><circle cx="179.35" cy="439.42" r="1.0"/><circle cx="179.35" cy="441.84" r="1.0"/><circle cx="180.24" cy="444.16" r="1.0"/><circle cx="180.29" cy="446.55" r="1.0"/><circle cx="181.06" cy="448.84" r="1.0"/><circle cx="180.92" cy="450.95" r="1.0"/><circle cx="181.93" cy="453.08" r="1.0"/><circle cx="181.78" cy="455.61" r="1.0"/><circle cx="182.25" cy="457.9" r="1.0"/><circle cx="182.54" cy="460.16" r="1.0"/><circle cx="183.21" cy="462.44" r="1.0"/><circle cx="182.93" cy="464.66" r="1.0"/><circle cx="183.6" cy="466.64" r="1.0"/><circle cx="184.56" cy="464.67" r="1.0"/><circle cx="184.7" cy="462.38" r="1.0"/><circle cx="185.74" cy="460.19" r="1.0"/><circle cx="185.79" cy="457.6" r="1.0"/><circle cx="186.76" cy="455.63" r="1.0"/><circle cx="186.98" cy="453.49" r="1.0"/><circle cx="188.16" cy="451.31" r="1.0"/><circle cx="188.54" cy="449.02" r="1.0"/><circle cx="189.61" cy="446.71" r="1.0"/><circle cx="190.1" cy="444.7" r="1.0"/><circle cx="191.11" cy="442.57" r="1.0"/><circle cx="191.53" cy="440.07" r="1.0"/><circle cx="192.68" cy="438.11" r="1.0"/><circle cx="193.04" cy="436.62" r="1.0"/><circle cx="193.37" cy="439.04" r="1.0"/><circle cx="194.16" cy="441.54" r="1.0"/><circle cx="194.07" cy="443.64" r="1.0"/><circle cx="194.85" cy="445.96" r="1.0"/><circle cx="194.99" cy="448.32" r="1.0"/><circle cx="195.35" cy="447.33" r="1.0"/><circle cx="196" cy="445.24" r="1.0"/><circle cx="196.29" cy="442.93" r="1.0"/><circle cx="197.04" cy="440.7" r="1.0"/><circle cx="197.37" cy="441.29" r="1.0"/><circle cx="197.8" cy="443.81" r="1.0"/><circle cx="198.58" cy="445.63" r="1.0"/><circle cx="199.13" cy="443.86" r="1.0"/><circle cx="199.17" cy="441.38" r="1.0"/><circle cx="200.18" cy="439.24" r="1.0"/><circle cx="200.29" cy="437.14" r="1.0"/><circle cx="200.18" cy="438.03" r="1.0"/><circle cx="201.14" cy="440.47" r="1.0"/><circle cx="200.83" cy="442.52" r="1.0"/><circle cx="201.36" cy="444.99" r="1.0"/><circle cx="201.9" cy="444.84" r="1.0"/><circle cx="201.17" cy="442.2" r="1.0"/><circle cx="201.14" cy="583.72" r="1.0"/><circle cx="199.96" cy="582.01" r="1.0"/><circle cx="199.71" cy="579.49" r="1.0"/><circle cx="198.49" cy="577.78" r="1.0"/><circle cx="197.89" cy="577.34" r="1.0"/><circle cx="197.91" cy="579.88" r="1.0"/><circle cx="197.12" cy="581.83" r="1.0"/><circle cx="196.83" cy="584.47" r="1.0"/><circle cx="195.78" cy="586.5" r="1.0"/><circle cx="194.75" cy="588.59" r="1.0"/><circle cx="194.02" cy="587.16" r="1.0"/><circle cx="193.19" cy="585.32" r="1.0"/><circle cx="192.74" cy="582.94" r="1.0"/><circle cx="191.54" cy="580.95" r="1.0"/><circle cx="190.86" cy="578.79" r="1.0"/><circle cx="189.96" cy="576.51" r="1.0"/><circle cx="189.39" cy="574.42" r="1.0"/><circle cx="188.09" cy="572.29" r="1.0"/><circle cx="187.68" cy="569.92" r="1.0"/><circle cx="186.59" cy="568.04" r="1.0"/><circle cx="186.36" cy="565.58" r="1.0"/><circle cx="184.97" cy="563.59" r="1.0"/><circle cx="184.85" cy="561.23" r="1.0"/><circle cx="183.6" cy="559.26" r="1.0"/><circle cx="183.51" cy="560.21" r="1.0"/><circle cx="183.6" cy="562.35" r="1.0"/><circle cx="183.32" cy="564.83" r="1.0"/><circle cx="183.81" cy="566.95" r="1.0"/><circle cx="183.2" cy="569.49" r="1.0"/><circle cx="183.69" cy="571.62" r="1.0"/><circle cx="183.24" cy="574.19" r="1.0"/><circle cx="183.62" cy="576.34" r="1.0"/><circle cx="183.23" cy="578.57" r="1.0"/><circle cx="183.82" cy="581.11" r="1.0"/><circle cx="183.21" cy="583.09" r="1.0"/><circle cx="183.74" cy="585.39" r="1.0"/><circle cx="183.04" cy="587.97" r="1.0"/><circle cx="183.59" cy="590.24" r="1.0"/><circle cx="183.17" cy="592.54" r="1.0"/><circle cx="183.09" cy="594.56" r="1.0"/><circle cx="182.58" cy="593.27" r="1.0"/><circle cx="182.41" cy="591.14" r="1.0"/><circle cx="182.56" cy="588.72" r="1.0"/><circle cx="182.25" cy="586.38" r="1.0"/><circle cx="182.53" cy="583.98" r="1.0"/><circle cx="182.26" cy="581.94" r="1.0"/><circle cx="182.47" cy="579.47" r="1.0"/><circle cx="182.32" cy="577.36" r="1.0"/><circle cx="182.45" cy="574.72" r="1.0"/><circle cx="182.32" cy="572.77" r="1.0"/><circle cx="182.51" cy="570.09" r="1.0"/><circle cx="182.26" cy="567.93" r="1.0"/><circle cx="182.63" cy="565.72" r="1.0"/><circle cx="182.17" cy="563.24" r="1.0"/><circle cx="182.53" cy="560.96" r="1.0"/><circle cx="182.34" cy="561.37" r="1.0"/><circle cx="182.06" cy="563.39" r="1.0"/><circle cx="182.16" cy="565.79" r="1.0"/><circle cx="181.83" cy="568.07" r="1.0"/><circle cx="182.02" cy="570.33" r="1.0"/><circle cx="181.81" cy="572.88" r="1.0"/><circle cx="181.89" cy="575.05" r="1.0"/><circle cx="181.73" cy="577.13" r="1.0"/><circle cx="182.11" cy="579.47" r="1.0"/><circle cx="181.57" cy="581.94" r="1.0"/><circle cx="181.93" cy="584.15" r="1.0"/><circle cx="181.39" cy="586.55" r="1.0"/><circle cx="181.75" cy="588.89" r="1.0"/><circle cx="181.31" cy="591.09" r="1.0"/><circle cx="181.49" cy="593.47" r="1.0"/><circle cx="181.22" cy="595.6" r="1.0"/><circle cx="181.21" cy="596.13" r="1.0"/><circle cx="181.25" cy="593.55" r="1.0"/><circle cx="180.63" cy="591.27" r="1.0"/><circle cx="180.66" cy="589.07" r="1.0"/><circle cx="180.01" cy="586.83" r="1.0"/><circle cx="180.35" cy="584.34" r="1.0"/><circle cx="179.77" cy="582.11" r="1.0"/><circle cx="179.98" cy="580.06" r="1.0"/><circle cx="179.26" cy="577.52" r="1.0"/><circle cx="179.42" cy="575.32" r="1.0"/><circle cx="178.97" cy="572.98" r="1.0"/><circle cx="178.74" cy="571.71" r="1.0"/><circle cx="178.99" cy="574.02" r="1.0"/><circle cx="178.29" cy="576.37" r="1.0"/><circle cx="178.72" cy="578.67" r="1.0"/><circle cx="178.41" cy="580.64" r="1.0"/><circle cx="178.67" cy="583.26" r="1.0"/><circle cx="177.89" cy="585.31" r="1.0"/><circle cx="178.48" cy="587.55" r="1.0"/><circle cx="178.05" cy="589.88" r="1.0"/><circle cx="178.33" cy="592.14" r="1.0"/><circle cx="177.72" cy="594.73" r="1.0"/><circle cx="177.92" cy="596.78" r="1.0"/><circle cx="177.55" cy="599.09" r="1.0"/><circle cx="177.67" cy="601.35" r="1.0"/><circle cx="177.24" cy="603.93" r="1.0"/><circle cx="177.76" cy="606.23" r="1.0"/><circle cx="177.07" cy="608.47" r="1.0"/><circle cx="177.36" cy="610.71" r="1.0"/><circle cx="177.53" cy="608.98" r="1.0"/><circle cx="177.21" cy="606.77" r="1.0"/><circle cx="177.46" cy="604.59" r="1.0"/><circle cx="176.85" cy="602.34" r="1.0"/><circle cx="177.44" cy="599.8" r="1.0"/><circle cx="177.08" cy="597.45" r="1.0"/><circle cx="177.53" cy="595.27" r="1.0"/><circle cx="176.86" cy="593.05" r="1.0"/><circle cx="177.27" cy="590.51" r="1.0"/><circle cx="176.97" cy="588.16" r="1.0"/><circle cx="177.37" cy="585.94" r="1.0"/><circle cx="176.88" cy="583.94" r="1.0"/><circle cx="177.23" cy="581.51" r="1.0"/><circle cx="176.7" cy="578.95" r="1.0"/><circle cx="176.96" cy="576.7" r="1.0"/><circle cx="176.77" cy="574.52" r="1.0"/><circle cx="177.11" cy="572.37" r="1.0"/><circle cx="176.91" cy="573.95" r="1.0"/><circle cx="176.66" cy="576.16" r="1.0"/><circle cx="176.75" cy="578.6" r="1.0"/><circle cx="176.34" cy="580.89" r="1.0"/><circle cx="176.73" cy="583.29" r="1.0"/><circle cx="176.42" cy="585.43" r="1.0"/><circle cx="176.78" cy="587.85" r="1.0"/><circle cx="176.14" cy="590.32" r="1.0"/><circle cx="176.53" cy="592.32" r="1.0"/><circle cx="176.01" cy="594.8" r="1.0"/><circle cx="176.67" cy="597.18" r="1.0"/><circle cx="176.33" cy="596.54" r="1.0"/><circle cx="175.57" cy="594.44" r="1.0"/><circle cx="175.98" cy="592" r="1.0"/><circle cx="175.4" cy="589.78" r="1.0"/><circle cx="175.7" cy="587.57" r="1.0"/><circle cx="174.82" cy="585.38" r="1.0"/><circle cx="174.92" cy="582.91" r="1.0"/><circle cx="174.46" cy="580.53" r="1.0"/><circle cx="174.61" cy="578.43" r="1.0"/><circle cx="174.16" cy="576.05" r="1.0"/><circle cx="174.91" cy="573.58" r="1.0"/><circle cx="174.19" cy="571.47" r="1.0"/><circle cx="174.68" cy="569.18" r="1.0"/><circle cx="174.38" cy="566.7" r="1.0"/><circle cx="174.55" cy="564.45" r="1.0"/><circle cx="174.02" cy="562.39" r="1.0"/><circle cx="174.69" cy="560.01" r="1.0"/><circle cx="173.95" cy="557.77" r="1.0"/><circle cx="174.62" cy="555.31" r="1.0"/><circle cx="174.19" cy="553.01" r="1.0"/><circle cx="174.36" cy="550.57" r="1.0"/><circle cx="173.93" cy="548.25" r="1.0"/><circle cx="174.34" cy="546.16" r="1.0"/><circle cx="173.24" cy="545.29" r="1.0"/><circle cx="172.86" cy="547.17" r="1.0"/><circle cx="173.17" cy="549.55" r="1.0"/><circle cx="172.83" cy="551.88" r="1.0"/><circle cx="173" cy="554.23" r="1.0"/><circle cx="172.85" cy="556.35" r="1.0"/><circle cx="173.19" cy="558.58" r="1.0"/><circle cx="172.52" cy="560.96" r="1.0"/><circle cx="173.08" cy="563.55" r="1.0"/><circle cx="172.66" cy="565.6" r="1.0"/><circle cx="173.08" cy="567.9" r="1.0"/><circle cx="172.4" cy="570.43" r="1.0"/><circle cx="172.93" cy="572.65" r="1.0"/><circle cx="172.51" cy="575.06" r="1.0"/><circle cx="172.81" cy="577.31" r="1.0"/><circle cx="172.42" cy="579.59" r="1.0"/><circle cx="172.39" cy="581.86" r="1.0"/><circle cx="171.73" cy="583.91" r="1.0"/><circle cx="171.66" cy="586.37" r="1.0"/><circle cx="170.9" cy="588.71" r="1.0"/><circle cx="171" cy="590.69" r="1.0"/><circle cx="170.27" cy="593.27" r="1.0"/><circle cx="170.45" cy="595.29" r="1.0"/><circle cx="169.61" cy="597.47" r="1.0"/><circle cx="169.94" cy="600.09" r="1.0"/><circle cx="169.86" cy="598.83" r="1.0"/><circle cx="169.18" cy="596.48" r="1.0"/><circle cx="169.68" cy="594.27" r="1.0"/><circle cx="169.43" cy="592" r="1.0"/><circle cx="169.51" cy="589.69" r="1.0"/><circle cx="169.42" cy="587.42" r="1.0"/><circle cx="169.47" cy="584.82" r="1.0"/><circle cx="169.05" cy="582.46" r="1.0"/><circle cx="169.72" cy="580.47" r="1.0"/><circle cx="169.21" cy="578.18" r="1.0"/><circle cx="169.58" cy="575.66" r="1.0"/><circle cx="168.94" cy="573.28" r="1.0"/><circle cx="169.58" cy="571.02" r="1.0"/><circle cx="168.98" cy="568.82" r="1.0"/><circle cx="169.24" cy="566.44" r="1.0"/><circle cx="168.96" cy="564.45" r="1.0"/><circle cx="167.56" cy="564.49" r="1.0"/><circle cx="168.15" cy="566.96" r="1.0"/><circle cx="167.68" cy="569.3" r="1.0"/><circle cx="167.73" cy="571.52" r="1.0"/><circle cx="167.47" cy="573.96" r="1.0"/><circle cx="167.8" cy="576.24" r="1.0"/><circle cx="167.45" cy="578.34" r="1.0"/><circle cx="167.96" cy="580.59" r="1.0"/><circle cx="167.52" cy="582.92" r="1.0"/><circle cx="167.56" cy="585.24" r="1.0"/><circle cx="167.44" cy="587.84" r="1.0"/><circle cx="167.51" cy="589.95" r="1.0"/><circle cx="167.28" cy="592.37" r="1.0"/><circle cx="167.53" cy="594.55" r="1.0"/><circle cx="167.17" cy="596.98" r="1.0"/><circle cx="167.51" cy="599.37" r="1.0"/><circle cx="167.24" cy="598.41" r="1.0"/><circle cx="166.6" cy="596.34" r="1.0"/><circle cx="166.34" cy="594.06" r="1.0"/><circle cx="165.52" cy="591.94" r="1.0"/><circle cx="165.75" cy="589.6" r="1.0"/><circle cx="164.91" cy="587.24" r="1.0"/><circle cx="164.8" cy="584.93" r="1.0"/><circle cx="164.52" cy="582.54" r="1.0"/><circle cx="164.88" cy="580.21" r="1.0"/><circle cx="164.17" cy="578.01" r="1.0"/><circle cx="164.81" cy="575.8" r="1.0"/><circle cx="164.16" cy="573.66" r="1.0"/><circle cx="164.47" cy="571.18" r="1.0"/><circle cx="164.15" cy="569.01" r="1.0"/><circle cx="164.6" cy="566.66" r="1.0"/><circle cx="164" cy="564.24" r="1.0"/><circle cx="164.28" cy="562.09" r="1.0"/><circle cx="163.32" cy="560.99" r="1.0"/><circle cx="162.24" cy="562.34" r="1.0"/><circle cx="162.84" cy="564.73" r="1.0"/><circle cx="162.15" cy="566.98" r="1.0"/><circle cx="162.81" cy="569.19" r="1.0"/><circle cx="162.1" cy="571.51" r="1.0"/><circle cx="162.66" cy="574.03" r="1.0"/><circle cx="162" cy="576.05" r="1.0"/><circle cx="162.4" cy="578.43" r="1.0"/><circle cx="162.08" cy="580.65" r="1.0"/><circle cx="162.36" cy="582.98" r="1.0"/><circle cx="162.3" cy="584.19" r="1.0"/><circle cx="160.77" cy="582.38" r="1.0"/><circle cx="160.27" cy="579.87" r="1.0"/><circle cx="159.39" cy="578.05" r="1.0"/><circle cx="158.79" cy="575.63" r="1.0"/><circle cx="157.35" cy="573.75" r="1.0"/><circle cx="156.56" cy="572.28" r="1.0"/><circle cx="156.37" cy="574.64" r="1.0"/><circle cx="155.37" cy="577.04" r="1.0"/><circle cx="155.25" cy="579.25" r="1.0"/><circle cx="154.21" cy="581.34" r="1.0"/><circle cx="153.76" cy="583.76" r="1.0"/><circle cx="153.16" cy="583.76" r="1.0"/><circle cx="152.27" cy="581.85" r="1.0"/><circle cx="150" cy="581.82" r="1.0"/><circle cx="148.36" cy="580.69" r="1.0"/><circle cx="148.1" cy="578.61" r="1.0"/><circle cx="147.24" cy="576.74" r="1.0"/><circle cx="146.74" cy="578.79" r="1.0"/><circle cx="146.75" cy="581.03" r="1.0"/></g>
<polygon points="517.6,85.9 529.72,86.66 543.49,84.27 559.8,82.31 577.51,84 595.35,90.16 613.38,100.1 633.37,113.26 638.73,134.04 642.9,155.4 638.73,176.76 633.37,197.54 613.38,210.7 595.35,220.64 577.51,226.8 559.8,228.49 543.49,226.53 529.72,224.14 517.6,224.9 505.48,224.14 491.71,226.53 475.4,228.49 457.69,226.8 439.85,220.64 421.82,210.7 401.83,197.54 396.47,176.76 392.3,155.4 396.47,134.04 401.83,113.26 421.82,100.1 439.85,90.16 457.69,84 475.4,82.31 491.71,84.27 505.48,86.66" fill="none" stroke="#e30b0b" stroke-width="2.8" stroke-linejoin="round"/>
<polygon points="517.6,443.45 530.68,438.29 542.67,443.57 565.15,430.09 596.53,418.38 600.03,443.29 624.03,451 635.34,469.59 639.03,491.04 622.1,512.45 639.03,533.86 635.34,555.31 624.03,573.9 600.03,581.61 596.53,606.52 565.15,594.81 542.67,581.33 530.68,586.61 517.6,581.45 504.52,586.61 492.53,581.33 470.05,594.81 438.67,606.52 435.17,581.61 411.17,573.9 399.86,555.31 396.17,533.86 413.1,512.45 396.17,491.04 399.86,469.59 411.17,451 435.17,443.29 438.67,418.38 470.05,430.09 492.53,443.57 504.52,438.29" fill="none" stroke="#000" stroke-width="2.6" stroke-linejoin="miter"/>
<rect x="182" y="135.5" width="23" height="41.5" fill="#fff"/>
<path d="M173.9,120 L180.9,143 L175.8,143 L175.8,168 L180.9,168 L173.9,191.5 L166.9,168 L172,168 L172,143 L166.9,143 Z" fill="#f00000"/>
<text x="182.2" y="167.3" style="font-family:'Liberation Serif',serif;font-size:32.5px;fill:#e31010">E</text>
<line x1="184.5" y1="141.3" x2="196" y2="141.3" stroke="#e31010" stroke-width="1"/><path d="M194,139.3 L200,141.3 L194,143.3 Z" fill="#e31010"/>
<text x="173.95" y="15.17" class="lb">0</text>
<text x="252.35" y="33.97" class="lb">30</text>
<text x="302.45" y="84.07" class="lb">60</text>
<text x="320.45" y="161.66" class="lb">90</text>
<text x="307.65" y="240.56" class="lb">120</text>
<text x="257.45" y="291.26" class="lb">150</text>
<text x="174.45" y="308.97" class="lb">180</text>
<text x="90.95" y="290.76" class="lb">210</text>
<text x="40.95" y="240.26" class="lb">240</text>
<text x="22.05" y="161.97" class="lb">270</text>
<text x="40.65" y="83.67" class="lb">300</text>
<text x="90.95" y="33.77" class="lb">330</text>
<text x="174.1" y="372.22" class="lb">0</text>
<text x="252.5" y="391.02" class="lb">30</text>
<text x="302.6" y="441.12" class="lb">60</text>
<text x="320.6" y="518.72" class="lb">90</text>
<text x="307.8" y="597.62" class="lb">120</text>
<text x="257.6" y="648.32" class="lb">150</text>
<text x="174.6" y="666.01" class="lb">180</text>
<text x="91.1" y="647.82" class="lb">210</text>
<text x="41.1" y="597.32" class="lb">240</text>
<text x="22.2" y="519.01" class="lb">270</text>
<text x="40.8" y="440.72" class="lb">300</text>
<text x="91.1" y="390.82" class="lb">330</text>
<text x="517.6" y="15.17" class="lb">0</text>
<text x="596" y="33.97" class="lb">30</text>
<text x="646.1" y="84.07" class="lb">60</text>
<text x="664.1" y="161.66" class="lb">90</text>
<text x="651.3" y="240.56" class="lb">120</text>
<text x="601.1" y="291.26" class="lb">150</text>
<text x="518.1" y="308.97" class="lb">180</text>
<text x="434.6" y="290.76" class="lb">210</text>
<text x="384.6" y="240.26" class="lb">240</text>
<text x="365.7" y="161.97" class="lb">270</text>
<text x="384.3" y="83.67" class="lb">300</text>
<text x="434.6" y="33.77" class="lb">330</text>
<text x="517.6" y="372.22" class="lb">0</text>
<text x="596" y="391.02" class="lb">30</text>
<text x="646.1" y="441.12" class="lb">60</text>
<text x="664.1" y="518.72" class="lb">90</text>
<text x="651.3" y="597.62" class="lb">120</text>
<text x="601.1" y="648.32" class="lb">150</text>
<text x="518.1" y="666.01" class="lb">180</text>
<text x="434.6" y="647.82" class="lb">210</text>
<text x="384.6" y="597.32" class="lb">240</text>
<text x="365.7" y="519.01" class="lb">270</text>
<text x="384.3" y="440.72" class="lb">300</text>
<text x="434.6" y="390.82" class="lb">330</text>
<text x="6.6" y="33.8" class="pl" style="letter-spacing:1.6px">(a)</text>
<text x="0.8" y="387.6" class="pl">(b)</text>
<text x="353.6" y="33.8" class="pl">(c)</text>
<text x="350.8" y="387.6" class="pl">(d)</text>
</svg></body></html>
